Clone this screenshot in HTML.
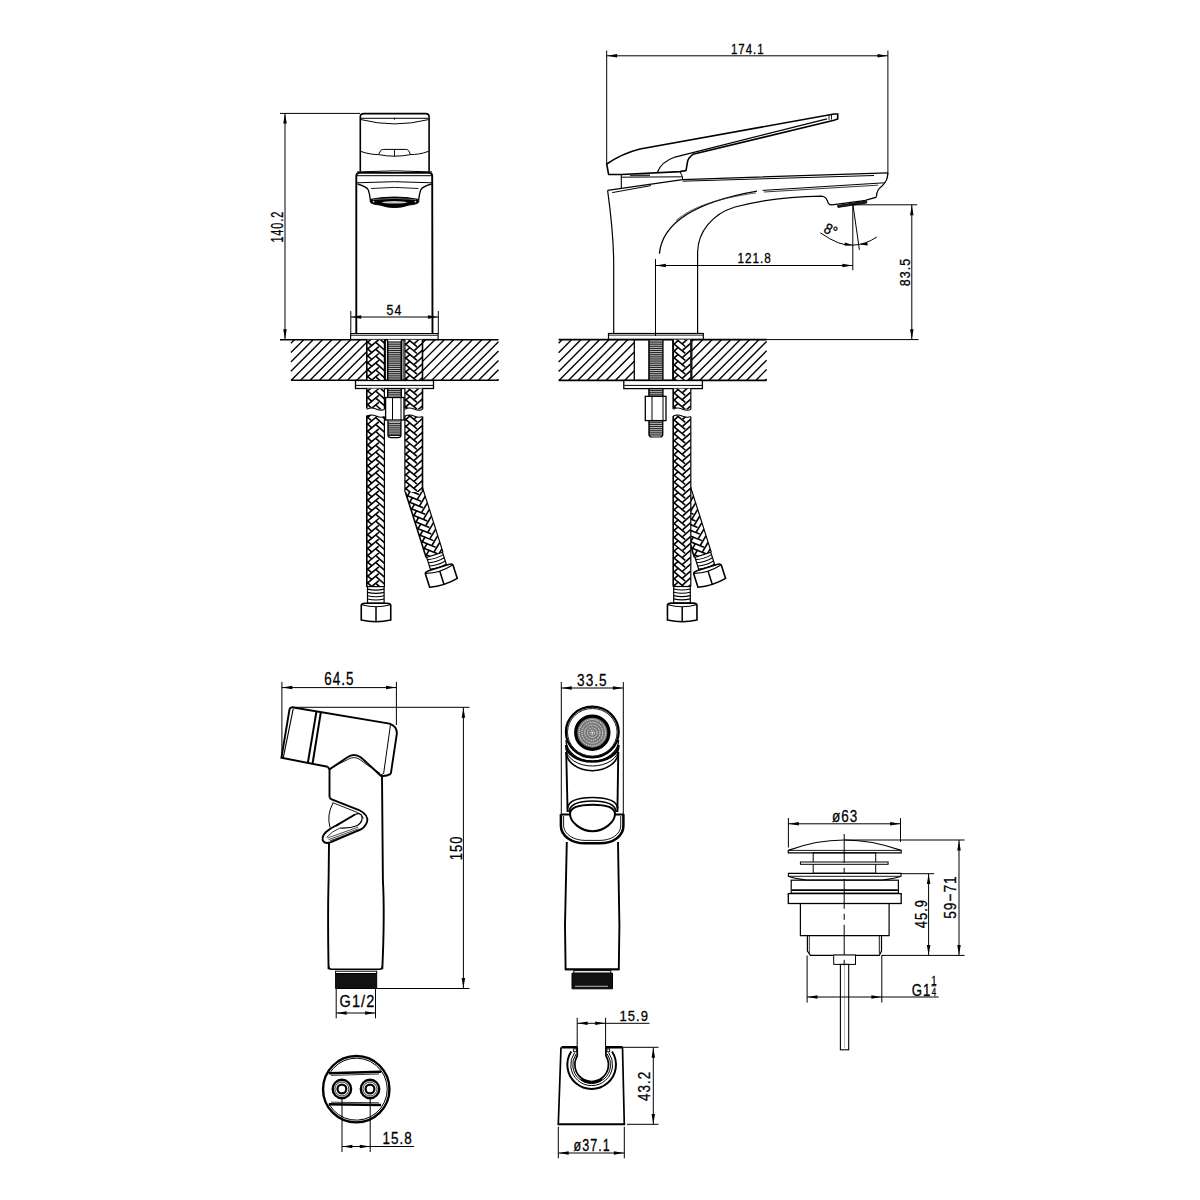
<!DOCTYPE html>
<html><head><meta charset="utf-8"><style>
html,body{margin:0;padding:0;background:#fff;width:1200px;height:1200px;overflow:hidden}
svg{display:block}
</style></head><body>
<svg width="1200" height="1200" viewBox="0 0 1200 1200" stroke-linecap="butt">
<rect width="1200" height="1200" fill="#fff"/>
<line x1="280" y1="113.4" x2="360" y2="113.4" stroke="#000" stroke-width="1.0" />
<line x1="285" y1="113.4" x2="285" y2="339.5" stroke="#000" stroke-width="1.0" />
<path d="M285,113.6 L286.75,123.6 L283.25,123.6 Z" fill="#000"/>
<path d="M285,339.3 L283.25,329.3 L286.75,329.3 Z" fill="#000"/>
<text transform="translate(276.98,226.75) rotate(-90) scale(0.6962041526815943,1)" x="0" y="5.63" font-family="Liberation Sans" font-size="15.628642954495875" letter-spacing="1.3" text-anchor="middle" fill="#000" stroke="#000" stroke-width="0.3">140.2</text>
<path d="M360.3,171.5 L360.3,116.5 Q360.3,113.6 364,113.6 L425.5,113.6 Q429.1,113.6 429.1,116.5 L429.1,171.5" stroke="#000" stroke-width="1.6" fill="none" />
<line x1="361" y1="118.3" x2="428.5" y2="118.3" stroke="#000" stroke-width="1.0" />
<line x1="394.5" y1="117.5" x2="394.5" y2="119.8" stroke="#000" stroke-width="0.9" />
<path d="M361,119.6 Q394.7,128.2 428.5,119.6" stroke="#000" stroke-width="1.0" fill="none" />
<path d="M360.5,151.3 C368,154 374,154.6 378.6,154.6 L380.6,150.6 Q381.6,149.4 383.6,149.4 L405.6,149.4 Q407.6,149.4 408.6,150.6 L410.6,154.6 C415.5,154.6 421.5,154 428.6,151.3" stroke="#000" stroke-width="1.0" fill="none" />
<path d="M378.6,154.6 Q394.5,157.8 410.6,154.6" stroke="#000" stroke-width="1.0" fill="none" />
<line x1="394.5" y1="149.4" x2="394.5" y2="156.4" stroke="#000" stroke-width="0.9" />
<path d="M356.3,333.7 L356.3,176 Q356.3,172.9 359.5,172.9 L429,172.9 Q432.2,172.9 432.2,176 L432.5,333.7" stroke="#000" stroke-width="1.9" fill="none" />
<path d="M357,171.9 Q394.5,169.8 432,171.9" stroke="#000" stroke-width="1.0" fill="none" />
<line x1="356.5" y1="175.7" x2="432" y2="175.7" stroke="#000" stroke-width="1.0" />
<path d="M357,182.8 Q394.5,180.6 432,182.8" stroke="#000" stroke-width="1.0" fill="none" />
<path d="M357.6,184 C363,185.5 367,187 368.3,190 C369.4,193 369.9,196 370.3,199.6" stroke="#000" stroke-width="1.3" fill="none" />
<path d="M431.4,184 C426,185.5 422,187 420.7,190 C419.6,193 419.1,196 418.7,199.6" stroke="#000" stroke-width="1.3" fill="none" />
<path d="M371,188.5 Q394.5,186.3 418.5,188.5" stroke="#000" stroke-width="0.9" fill="none" />
<path d="M370.2,199.4 Q394.5,194.6 418.8,199.4 L418.8,202 Q417.5,204.3 409,205 Q402,207.6 394.5,207.6 Q387,207.6 380,205 Q371.5,204.3 370.2,202 Z" stroke="#000" stroke-width="1.0" fill="#000" />
<ellipse cx="394.5" cy="202.3" rx="12.6" ry="1.2" fill="#c8c8c8"/>
<circle cx="373.6" cy="201.6" r="0.9" fill="#ddd"/>
<circle cx="415.4" cy="201.6" r="0.9" fill="#ddd"/>
<path d="M373,199.6 Q394.5,197.2 416,199.6" stroke="#888" stroke-width="0.7" fill="none" />
<rect x="350.6" y="333.6" width="87.5" height="5.9" stroke="#000" stroke-width="1.2" fill="#fff"/>
<line x1="351" y1="335.4" x2="437.8" y2="335.4" stroke="#000" stroke-width="0.8" />
<line x1="350.8" y1="311" x2="350.8" y2="333.5" stroke="#000" stroke-width="1.0" />
<line x1="438.3" y1="311" x2="438.3" y2="333.5" stroke="#000" stroke-width="1.0" />
<line x1="350.8" y1="317" x2="438.3" y2="317" stroke="#000" stroke-width="1.0" />
<path d="M351.2,317 L361.2,315.25 L361.2,318.75 Z" fill="#000"/>
<path d="M437.9,317 L427.9,318.75 L427.9,315.25 Z" fill="#000"/>
<text transform="translate(394.5,309.3) scale(0.8305806570504135,1)" x="0" y="5.37" font-family="Liberation Sans" font-size="14.919763419647278" letter-spacing="1.3" text-anchor="middle" fill="#000" stroke="#000" stroke-width="0.3">54</text>
<line x1="280" y1="339.7" x2="498.5" y2="339.7" stroke="#000" stroke-width="1.6" />
<line x1="290.9" y1="380.3" x2="498.5" y2="380.3" stroke="#000" stroke-width="1.6" />
<line x1="290.9" y1="343.17" x2="294.37" y2="339.7" stroke="#000" stroke-width="1.35" />
<line x1="290.9" y1="352.54" x2="303.74" y2="339.7" stroke="#000" stroke-width="1.35" />
<line x1="290.9" y1="361.91" x2="313.11" y2="339.7" stroke="#000" stroke-width="1.35" />
<line x1="290.9" y1="371.28" x2="322.48" y2="339.7" stroke="#000" stroke-width="1.35" />
<line x1="291.25" y1="380.3" x2="331.85" y2="339.7" stroke="#000" stroke-width="1.35" />
<line x1="300.62" y1="380.3" x2="341.22" y2="339.7" stroke="#000" stroke-width="1.35" />
<line x1="309.99" y1="380.3" x2="350.59" y2="339.7" stroke="#000" stroke-width="1.35" />
<line x1="319.36" y1="380.3" x2="359.96" y2="339.7" stroke="#000" stroke-width="1.35" />
<line x1="328.73" y1="380.3" x2="366.7" y2="342.33" stroke="#000" stroke-width="1.35" />
<line x1="338.1" y1="380.3" x2="366.7" y2="351.7" stroke="#000" stroke-width="1.35" />
<line x1="347.47" y1="380.3" x2="366.7" y2="361.07" stroke="#000" stroke-width="1.35" />
<line x1="356.84" y1="380.3" x2="366.7" y2="370.44" stroke="#000" stroke-width="1.35" />
<line x1="366.21" y1="380.3" x2="366.7" y2="379.81" stroke="#000" stroke-width="1.35" />
<line x1="422.6" y1="342.65" x2="425.55" y2="339.7" stroke="#000" stroke-width="1.35" />
<line x1="422.6" y1="352.02" x2="434.92" y2="339.7" stroke="#000" stroke-width="1.35" />
<line x1="422.6" y1="361.39" x2="444.29" y2="339.7" stroke="#000" stroke-width="1.35" />
<line x1="422.6" y1="370.76" x2="453.66" y2="339.7" stroke="#000" stroke-width="1.35" />
<line x1="422.6" y1="380.13" x2="463.03" y2="339.7" stroke="#000" stroke-width="1.35" />
<line x1="431.8" y1="380.3" x2="472.4" y2="339.7" stroke="#000" stroke-width="1.35" />
<line x1="441.17" y1="380.3" x2="481.77" y2="339.7" stroke="#000" stroke-width="1.35" />
<line x1="450.54" y1="380.3" x2="491.14" y2="339.7" stroke="#000" stroke-width="1.35" />
<line x1="459.91" y1="380.3" x2="498.5" y2="341.71" stroke="#000" stroke-width="1.35" />
<line x1="469.28" y1="380.3" x2="498.5" y2="351.08" stroke="#000" stroke-width="1.35" />
<line x1="478.65" y1="380.3" x2="498.5" y2="360.45" stroke="#000" stroke-width="1.35" />
<line x1="488.02" y1="380.3" x2="498.5" y2="369.82" stroke="#000" stroke-width="1.35" />
<line x1="497.39" y1="380.3" x2="498.5" y2="379.19" stroke="#000" stroke-width="1.35" />
<g transform="translate(375.6,339.7) rotate(0)">
<clipPath id="bfl1"><rect x="-8.8" y="0" width="17.6" height="48.8"/></clipPath>
<rect x="-8.8" y="0" width="17.6" height="48.8" fill="#fff"/>
<g clip-path="url(#bfl1)" stroke="#000" stroke-width="1.6" fill="none">
<line x1="-8.8" y1="-24.5" x2="3.25" y2="-34.5"/>
<line x1="0.5" y1="-31.57" x2="8.8" y2="-24.19"/>
<line x1="-8.8" y1="-32.95" x2="-3.5" y2="-28.27"/>
<line x1="-8.8" y1="-17.6" x2="3.25" y2="-27.6"/>
<line x1="0.5" y1="-24.67" x2="8.8" y2="-17.29"/>
<line x1="-8.8" y1="-26.05" x2="-3.5" y2="-21.37"/>
<line x1="-8.8" y1="-10.7" x2="3.25" y2="-20.7"/>
<line x1="0.5" y1="-17.77" x2="8.8" y2="-10.39"/>
<line x1="-8.8" y1="-19.15" x2="-3.5" y2="-14.47"/>
<line x1="-8.8" y1="-3.8" x2="3.25" y2="-13.8"/>
<line x1="0.5" y1="-10.87" x2="8.8" y2="-3.49"/>
<line x1="-8.8" y1="-12.25" x2="-3.5" y2="-7.57"/>
<line x1="-8.8" y1="3.1" x2="3.25" y2="-6.9"/>
<line x1="0.5" y1="-3.97" x2="8.8" y2="3.41"/>
<line x1="-8.8" y1="-5.35" x2="-3.5" y2="-0.67"/>
<line x1="-8.8" y1="10" x2="3.25" y2="0"/>
<line x1="0.5" y1="2.93" x2="8.8" y2="10.31"/>
<line x1="-8.8" y1="1.55" x2="-3.5" y2="6.23"/>
<line x1="-8.8" y1="16.9" x2="3.25" y2="6.9"/>
<line x1="0.5" y1="9.83" x2="8.8" y2="17.21"/>
<line x1="-8.8" y1="8.45" x2="-3.5" y2="13.13"/>
<line x1="-8.8" y1="23.8" x2="3.25" y2="13.8"/>
<line x1="0.5" y1="16.73" x2="8.8" y2="24.11"/>
<line x1="-8.8" y1="15.35" x2="-3.5" y2="20.03"/>
<line x1="-8.8" y1="30.7" x2="3.25" y2="20.7"/>
<line x1="0.5" y1="23.63" x2="8.8" y2="31.01"/>
<line x1="-8.8" y1="22.25" x2="-3.5" y2="26.93"/>
<line x1="-8.8" y1="37.6" x2="3.25" y2="27.6"/>
<line x1="0.5" y1="30.53" x2="8.8" y2="37.91"/>
<line x1="-8.8" y1="29.15" x2="-3.5" y2="33.83"/>
<line x1="-8.8" y1="44.5" x2="3.25" y2="34.5"/>
<line x1="0.5" y1="37.43" x2="8.8" y2="44.81"/>
<line x1="-8.8" y1="36.05" x2="-3.5" y2="40.73"/>
<line x1="-8.8" y1="51.4" x2="3.25" y2="41.4"/>
<line x1="0.5" y1="44.33" x2="8.8" y2="51.71"/>
<line x1="-8.8" y1="42.95" x2="-3.5" y2="47.63"/>
<line x1="-8.8" y1="58.3" x2="3.25" y2="48.3"/>
<line x1="0.5" y1="51.23" x2="8.8" y2="58.61"/>
<line x1="-8.8" y1="49.85" x2="-3.5" y2="54.53"/>
<line x1="-8.8" y1="65.2" x2="3.25" y2="55.2"/>
<line x1="0.5" y1="58.13" x2="8.8" y2="65.51"/>
<line x1="-8.8" y1="56.75" x2="-3.5" y2="61.43"/>
<line x1="-8.8" y1="72.1" x2="3.25" y2="62.1"/>
<line x1="0.5" y1="65.03" x2="8.8" y2="72.41"/>
<line x1="-8.8" y1="63.65" x2="-3.5" y2="68.33"/>
<line x1="-8.8" y1="79" x2="3.25" y2="69"/>
<line x1="0.5" y1="71.93" x2="8.8" y2="79.31"/>
<line x1="-8.8" y1="70.55" x2="-3.5" y2="75.23"/>
<line x1="-8.8" y1="85.9" x2="3.25" y2="75.9"/>
<line x1="0.5" y1="78.83" x2="8.8" y2="86.21"/>
<line x1="-8.8" y1="77.45" x2="-3.5" y2="82.13"/>
<line x1="-8.8" y1="92.8" x2="3.25" y2="82.8"/>
<line x1="0.5" y1="85.73" x2="8.8" y2="93.11"/>
<line x1="-8.8" y1="84.35" x2="-3.5" y2="89.03"/>
<line x1="-8.8" y1="99.7" x2="3.25" y2="89.7"/>
<line x1="0.5" y1="92.63" x2="8.8" y2="100.01"/>
<line x1="-8.8" y1="91.25" x2="-3.5" y2="95.93"/>
<line x1="-8.8" y1="106.6" x2="3.25" y2="96.6"/>
<line x1="0.5" y1="99.53" x2="8.8" y2="106.91"/>
<line x1="-8.8" y1="98.15" x2="-3.5" y2="102.83"/>
</g>
<line x1="-8.8" y1="0" x2="-8.8" y2="48.8" stroke="#000" stroke-width="1.6"/>
<line x1="8.8" y1="0" x2="8.8" y2="48.8" stroke="#000" stroke-width="1.2"/>
</g>
<g transform="translate(413.7,339.7) rotate(0)">
<clipPath id="bfr1"><rect x="-8.8" y="0" width="17.6" height="48.8"/></clipPath>
<rect x="-8.8" y="0" width="17.6" height="48.8" fill="#fff"/>
<g clip-path="url(#bfr1)" stroke="#000" stroke-width="1.6" fill="none">
<line x1="-8.8" y1="-44.5" x2="3.25" y2="-34.5"/>
<line x1="0.5" y1="-37.43" x2="8.8" y2="-44.81"/>
<line x1="-8.8" y1="-36.05" x2="-3.5" y2="-40.73"/>
<line x1="-8.8" y1="-37.6" x2="3.25" y2="-27.6"/>
<line x1="0.5" y1="-30.53" x2="8.8" y2="-37.91"/>
<line x1="-8.8" y1="-29.15" x2="-3.5" y2="-33.83"/>
<line x1="-8.8" y1="-30.7" x2="3.25" y2="-20.7"/>
<line x1="0.5" y1="-23.63" x2="8.8" y2="-31.01"/>
<line x1="-8.8" y1="-22.25" x2="-3.5" y2="-26.93"/>
<line x1="-8.8" y1="-23.8" x2="3.25" y2="-13.8"/>
<line x1="0.5" y1="-16.73" x2="8.8" y2="-24.11"/>
<line x1="-8.8" y1="-15.35" x2="-3.5" y2="-20.03"/>
<line x1="-8.8" y1="-16.9" x2="3.25" y2="-6.9"/>
<line x1="0.5" y1="-9.83" x2="8.8" y2="-17.21"/>
<line x1="-8.8" y1="-8.45" x2="-3.5" y2="-13.13"/>
<line x1="-8.8" y1="-10" x2="3.25" y2="0"/>
<line x1="0.5" y1="-2.93" x2="8.8" y2="-10.31"/>
<line x1="-8.8" y1="-1.55" x2="-3.5" y2="-6.23"/>
<line x1="-8.8" y1="-3.1" x2="3.25" y2="6.9"/>
<line x1="0.5" y1="3.97" x2="8.8" y2="-3.41"/>
<line x1="-8.8" y1="5.35" x2="-3.5" y2="0.67"/>
<line x1="-8.8" y1="3.8" x2="3.25" y2="13.8"/>
<line x1="0.5" y1="10.87" x2="8.8" y2="3.49"/>
<line x1="-8.8" y1="12.25" x2="-3.5" y2="7.57"/>
<line x1="-8.8" y1="10.7" x2="3.25" y2="20.7"/>
<line x1="0.5" y1="17.77" x2="8.8" y2="10.39"/>
<line x1="-8.8" y1="19.15" x2="-3.5" y2="14.47"/>
<line x1="-8.8" y1="17.6" x2="3.25" y2="27.6"/>
<line x1="0.5" y1="24.67" x2="8.8" y2="17.29"/>
<line x1="-8.8" y1="26.05" x2="-3.5" y2="21.37"/>
<line x1="-8.8" y1="24.5" x2="3.25" y2="34.5"/>
<line x1="0.5" y1="31.57" x2="8.8" y2="24.19"/>
<line x1="-8.8" y1="32.95" x2="-3.5" y2="28.27"/>
<line x1="-8.8" y1="31.4" x2="3.25" y2="41.4"/>
<line x1="0.5" y1="38.47" x2="8.8" y2="31.09"/>
<line x1="-8.8" y1="39.85" x2="-3.5" y2="35.17"/>
<line x1="-8.8" y1="38.3" x2="3.25" y2="48.3"/>
<line x1="0.5" y1="45.37" x2="8.8" y2="37.99"/>
<line x1="-8.8" y1="46.75" x2="-3.5" y2="42.07"/>
<line x1="-8.8" y1="45.2" x2="3.25" y2="55.2"/>
<line x1="0.5" y1="52.27" x2="8.8" y2="44.89"/>
<line x1="-8.8" y1="53.65" x2="-3.5" y2="48.97"/>
<line x1="-8.8" y1="52.1" x2="3.25" y2="62.1"/>
<line x1="0.5" y1="59.17" x2="8.8" y2="51.79"/>
<line x1="-8.8" y1="60.55" x2="-3.5" y2="55.87"/>
<line x1="-8.8" y1="59" x2="3.25" y2="69"/>
<line x1="0.5" y1="66.07" x2="8.8" y2="58.69"/>
<line x1="-8.8" y1="67.45" x2="-3.5" y2="62.77"/>
<line x1="-8.8" y1="65.9" x2="3.25" y2="75.9"/>
<line x1="0.5" y1="72.97" x2="8.8" y2="65.59"/>
<line x1="-8.8" y1="74.35" x2="-3.5" y2="69.67"/>
<line x1="-8.8" y1="72.8" x2="3.25" y2="82.8"/>
<line x1="0.5" y1="79.87" x2="8.8" y2="72.49"/>
<line x1="-8.8" y1="81.25" x2="-3.5" y2="76.57"/>
<line x1="-8.8" y1="79.7" x2="3.25" y2="89.7"/>
<line x1="0.5" y1="86.77" x2="8.8" y2="79.39"/>
<line x1="-8.8" y1="88.15" x2="-3.5" y2="83.47"/>
<line x1="-8.8" y1="86.6" x2="3.25" y2="96.6"/>
<line x1="0.5" y1="93.67" x2="8.8" y2="86.29"/>
<line x1="-8.8" y1="95.05" x2="-3.5" y2="90.37"/>
</g>
<line x1="-8.8" y1="0" x2="-8.8" y2="48.8" stroke="#000" stroke-width="1.2"/>
<line x1="8.8" y1="0" x2="8.8" y2="48.8" stroke="#000" stroke-width="1.6"/>
</g>
<line x1="385.6" y1="339.7" x2="385.6" y2="380.3" stroke="#000" stroke-width="1.0" />
<line x1="403.1" y1="339.7" x2="403.1" y2="380.3" stroke="#000" stroke-width="1.0" />
<rect x="387.6" y="339.7" width="13.8" height="57.8" stroke="none" stroke-width="0" fill="#fff"/>
<rect x="387.8" y="341" width="13.4" height="55.5" stroke="none" stroke-width="0" fill="#111"/>
<line x1="388.4" y1="341.95" x2="400.6" y2="341.95" stroke="#fff" stroke-width="0.75" />
<line x1="388.4" y1="343.85" x2="400.6" y2="343.85" stroke="#fff" stroke-width="0.75" />
<line x1="388.4" y1="345.75" x2="400.6" y2="345.75" stroke="#fff" stroke-width="0.75" />
<line x1="388.4" y1="347.65" x2="400.6" y2="347.65" stroke="#fff" stroke-width="0.75" />
<line x1="388.4" y1="349.55" x2="400.6" y2="349.55" stroke="#fff" stroke-width="0.75" />
<line x1="388.4" y1="351.45" x2="400.6" y2="351.45" stroke="#fff" stroke-width="0.75" />
<line x1="388.4" y1="353.35" x2="400.6" y2="353.35" stroke="#fff" stroke-width="0.75" />
<line x1="388.4" y1="355.25" x2="400.6" y2="355.25" stroke="#fff" stroke-width="0.75" />
<line x1="388.4" y1="357.15" x2="400.6" y2="357.15" stroke="#fff" stroke-width="0.75" />
<line x1="388.4" y1="359.05" x2="400.6" y2="359.05" stroke="#fff" stroke-width="0.75" />
<line x1="388.4" y1="360.95" x2="400.6" y2="360.95" stroke="#fff" stroke-width="0.75" />
<line x1="388.4" y1="362.85" x2="400.6" y2="362.85" stroke="#fff" stroke-width="0.75" />
<line x1="388.4" y1="364.75" x2="400.6" y2="364.75" stroke="#fff" stroke-width="0.75" />
<line x1="388.4" y1="366.65" x2="400.6" y2="366.65" stroke="#fff" stroke-width="0.75" />
<line x1="388.4" y1="368.55" x2="400.6" y2="368.55" stroke="#fff" stroke-width="0.75" />
<line x1="388.4" y1="370.45" x2="400.6" y2="370.45" stroke="#fff" stroke-width="0.75" />
<line x1="388.4" y1="372.35" x2="400.6" y2="372.35" stroke="#fff" stroke-width="0.75" />
<line x1="388.4" y1="374.25" x2="400.6" y2="374.25" stroke="#fff" stroke-width="0.75" />
<line x1="388.4" y1="376.15" x2="400.6" y2="376.15" stroke="#fff" stroke-width="0.75" />
<line x1="388.4" y1="378.05" x2="400.6" y2="378.05" stroke="#fff" stroke-width="0.75" />
<line x1="388.4" y1="379.95" x2="400.6" y2="379.95" stroke="#fff" stroke-width="0.75" />
<line x1="388.4" y1="381.85" x2="400.6" y2="381.85" stroke="#fff" stroke-width="0.75" />
<line x1="388.4" y1="383.75" x2="400.6" y2="383.75" stroke="#fff" stroke-width="0.75" />
<line x1="388.4" y1="385.65" x2="400.6" y2="385.65" stroke="#fff" stroke-width="0.75" />
<line x1="388.4" y1="387.55" x2="400.6" y2="387.55" stroke="#fff" stroke-width="0.75" />
<line x1="388.4" y1="389.45" x2="400.6" y2="389.45" stroke="#fff" stroke-width="0.75" />
<line x1="388.4" y1="391.35" x2="400.6" y2="391.35" stroke="#fff" stroke-width="0.75" />
<line x1="388.4" y1="393.25" x2="400.6" y2="393.25" stroke="#fff" stroke-width="0.75" />
<line x1="388.4" y1="395.15" x2="400.6" y2="395.15" stroke="#fff" stroke-width="0.75" />
<line x1="387.6" y1="339.7" x2="387.6" y2="397.5" stroke="#000" stroke-width="1.2" />
<line x1="401.4" y1="339.7" x2="401.4" y2="397.5" stroke="#000" stroke-width="1.2" />
<rect x="355.5" y="380.5" width="78" height="8" stroke="#000" stroke-width="1.3" fill="#fff"/>
<line x1="356" y1="385.4" x2="433" y2="385.4" stroke="#000" stroke-width="1.0" />
<g transform="translate(375.6,388.5) rotate(0)">
<clipPath id="bfl2"><rect x="-8.8" y="0" width="17.6" height="21"/></clipPath>
<rect x="-8.8" y="0" width="17.6" height="21" fill="#fff"/>
<g clip-path="url(#bfl2)" stroke="#000" stroke-width="1.6" fill="none">
<line x1="-8.8" y1="-24.5" x2="3.25" y2="-34.5"/>
<line x1="0.5" y1="-31.57" x2="8.8" y2="-24.19"/>
<line x1="-8.8" y1="-32.95" x2="-3.5" y2="-28.27"/>
<line x1="-8.8" y1="-17.6" x2="3.25" y2="-27.6"/>
<line x1="0.5" y1="-24.67" x2="8.8" y2="-17.29"/>
<line x1="-8.8" y1="-26.05" x2="-3.5" y2="-21.37"/>
<line x1="-8.8" y1="-10.7" x2="3.25" y2="-20.7"/>
<line x1="0.5" y1="-17.77" x2="8.8" y2="-10.39"/>
<line x1="-8.8" y1="-19.15" x2="-3.5" y2="-14.47"/>
<line x1="-8.8" y1="-3.8" x2="3.25" y2="-13.8"/>
<line x1="0.5" y1="-10.87" x2="8.8" y2="-3.49"/>
<line x1="-8.8" y1="-12.25" x2="-3.5" y2="-7.57"/>
<line x1="-8.8" y1="3.1" x2="3.25" y2="-6.9"/>
<line x1="0.5" y1="-3.97" x2="8.8" y2="3.41"/>
<line x1="-8.8" y1="-5.35" x2="-3.5" y2="-0.67"/>
<line x1="-8.8" y1="10" x2="3.25" y2="0"/>
<line x1="0.5" y1="2.93" x2="8.8" y2="10.31"/>
<line x1="-8.8" y1="1.55" x2="-3.5" y2="6.23"/>
<line x1="-8.8" y1="16.9" x2="3.25" y2="6.9"/>
<line x1="0.5" y1="9.83" x2="8.8" y2="17.21"/>
<line x1="-8.8" y1="8.45" x2="-3.5" y2="13.13"/>
<line x1="-8.8" y1="23.8" x2="3.25" y2="13.8"/>
<line x1="0.5" y1="16.73" x2="8.8" y2="24.11"/>
<line x1="-8.8" y1="15.35" x2="-3.5" y2="20.03"/>
<line x1="-8.8" y1="30.7" x2="3.25" y2="20.7"/>
<line x1="0.5" y1="23.63" x2="8.8" y2="31.01"/>
<line x1="-8.8" y1="22.25" x2="-3.5" y2="26.93"/>
<line x1="-8.8" y1="37.6" x2="3.25" y2="27.6"/>
<line x1="0.5" y1="30.53" x2="8.8" y2="37.91"/>
<line x1="-8.8" y1="29.15" x2="-3.5" y2="33.83"/>
<line x1="-8.8" y1="44.5" x2="3.25" y2="34.5"/>
<line x1="0.5" y1="37.43" x2="8.8" y2="44.81"/>
<line x1="-8.8" y1="36.05" x2="-3.5" y2="40.73"/>
<line x1="-8.8" y1="51.4" x2="3.25" y2="41.4"/>
<line x1="0.5" y1="44.33" x2="8.8" y2="51.71"/>
<line x1="-8.8" y1="42.95" x2="-3.5" y2="47.63"/>
<line x1="-8.8" y1="58.3" x2="3.25" y2="48.3"/>
<line x1="0.5" y1="51.23" x2="8.8" y2="58.61"/>
<line x1="-8.8" y1="49.85" x2="-3.5" y2="54.53"/>
<line x1="-8.8" y1="65.2" x2="3.25" y2="55.2"/>
<line x1="0.5" y1="58.13" x2="8.8" y2="65.51"/>
<line x1="-8.8" y1="56.75" x2="-3.5" y2="61.43"/>
<line x1="-8.8" y1="72.1" x2="3.25" y2="62.1"/>
<line x1="0.5" y1="65.03" x2="8.8" y2="72.41"/>
<line x1="-8.8" y1="63.65" x2="-3.5" y2="68.33"/>
<line x1="-8.8" y1="79" x2="3.25" y2="69"/>
<line x1="0.5" y1="71.93" x2="8.8" y2="79.31"/>
<line x1="-8.8" y1="70.55" x2="-3.5" y2="75.23"/>
</g>
<line x1="-8.8" y1="0" x2="-8.8" y2="21" stroke="#000" stroke-width="1.6"/>
<line x1="8.8" y1="0" x2="8.8" y2="21" stroke="#000" stroke-width="1.2"/>
</g>
<g transform="translate(375.6,415) rotate(0)">
<clipPath id="bfl3"><rect x="-8.8" y="0" width="17.6" height="172"/></clipPath>
<rect x="-8.8" y="0" width="17.6" height="172" fill="#fff"/>
<g clip-path="url(#bfl3)" stroke="#000" stroke-width="1.6" fill="none">
<line x1="-8.8" y1="-24.5" x2="3.25" y2="-34.5"/>
<line x1="0.5" y1="-31.57" x2="8.8" y2="-24.19"/>
<line x1="-8.8" y1="-32.95" x2="-3.5" y2="-28.27"/>
<line x1="-8.8" y1="-17.6" x2="3.25" y2="-27.6"/>
<line x1="0.5" y1="-24.67" x2="8.8" y2="-17.29"/>
<line x1="-8.8" y1="-26.05" x2="-3.5" y2="-21.37"/>
<line x1="-8.8" y1="-10.7" x2="3.25" y2="-20.7"/>
<line x1="0.5" y1="-17.77" x2="8.8" y2="-10.39"/>
<line x1="-8.8" y1="-19.15" x2="-3.5" y2="-14.47"/>
<line x1="-8.8" y1="-3.8" x2="3.25" y2="-13.8"/>
<line x1="0.5" y1="-10.87" x2="8.8" y2="-3.49"/>
<line x1="-8.8" y1="-12.25" x2="-3.5" y2="-7.57"/>
<line x1="-8.8" y1="3.1" x2="3.25" y2="-6.9"/>
<line x1="0.5" y1="-3.97" x2="8.8" y2="3.41"/>
<line x1="-8.8" y1="-5.35" x2="-3.5" y2="-0.67"/>
<line x1="-8.8" y1="10" x2="3.25" y2="0"/>
<line x1="0.5" y1="2.93" x2="8.8" y2="10.31"/>
<line x1="-8.8" y1="1.55" x2="-3.5" y2="6.23"/>
<line x1="-8.8" y1="16.9" x2="3.25" y2="6.9"/>
<line x1="0.5" y1="9.83" x2="8.8" y2="17.21"/>
<line x1="-8.8" y1="8.45" x2="-3.5" y2="13.13"/>
<line x1="-8.8" y1="23.8" x2="3.25" y2="13.8"/>
<line x1="0.5" y1="16.73" x2="8.8" y2="24.11"/>
<line x1="-8.8" y1="15.35" x2="-3.5" y2="20.03"/>
<line x1="-8.8" y1="30.7" x2="3.25" y2="20.7"/>
<line x1="0.5" y1="23.63" x2="8.8" y2="31.01"/>
<line x1="-8.8" y1="22.25" x2="-3.5" y2="26.93"/>
<line x1="-8.8" y1="37.6" x2="3.25" y2="27.6"/>
<line x1="0.5" y1="30.53" x2="8.8" y2="37.91"/>
<line x1="-8.8" y1="29.15" x2="-3.5" y2="33.83"/>
<line x1="-8.8" y1="44.5" x2="3.25" y2="34.5"/>
<line x1="0.5" y1="37.43" x2="8.8" y2="44.81"/>
<line x1="-8.8" y1="36.05" x2="-3.5" y2="40.73"/>
<line x1="-8.8" y1="51.4" x2="3.25" y2="41.4"/>
<line x1="0.5" y1="44.33" x2="8.8" y2="51.71"/>
<line x1="-8.8" y1="42.95" x2="-3.5" y2="47.63"/>
<line x1="-8.8" y1="58.3" x2="3.25" y2="48.3"/>
<line x1="0.5" y1="51.23" x2="8.8" y2="58.61"/>
<line x1="-8.8" y1="49.85" x2="-3.5" y2="54.53"/>
<line x1="-8.8" y1="65.2" x2="3.25" y2="55.2"/>
<line x1="0.5" y1="58.13" x2="8.8" y2="65.51"/>
<line x1="-8.8" y1="56.75" x2="-3.5" y2="61.43"/>
<line x1="-8.8" y1="72.1" x2="3.25" y2="62.1"/>
<line x1="0.5" y1="65.03" x2="8.8" y2="72.41"/>
<line x1="-8.8" y1="63.65" x2="-3.5" y2="68.33"/>
<line x1="-8.8" y1="79" x2="3.25" y2="69"/>
<line x1="0.5" y1="71.93" x2="8.8" y2="79.31"/>
<line x1="-8.8" y1="70.55" x2="-3.5" y2="75.23"/>
<line x1="-8.8" y1="85.9" x2="3.25" y2="75.9"/>
<line x1="0.5" y1="78.83" x2="8.8" y2="86.21"/>
<line x1="-8.8" y1="77.45" x2="-3.5" y2="82.13"/>
<line x1="-8.8" y1="92.8" x2="3.25" y2="82.8"/>
<line x1="0.5" y1="85.73" x2="8.8" y2="93.11"/>
<line x1="-8.8" y1="84.35" x2="-3.5" y2="89.03"/>
<line x1="-8.8" y1="99.7" x2="3.25" y2="89.7"/>
<line x1="0.5" y1="92.63" x2="8.8" y2="100.01"/>
<line x1="-8.8" y1="91.25" x2="-3.5" y2="95.93"/>
<line x1="-8.8" y1="106.6" x2="3.25" y2="96.6"/>
<line x1="0.5" y1="99.53" x2="8.8" y2="106.91"/>
<line x1="-8.8" y1="98.15" x2="-3.5" y2="102.83"/>
<line x1="-8.8" y1="113.5" x2="3.25" y2="103.5"/>
<line x1="0.5" y1="106.43" x2="8.8" y2="113.81"/>
<line x1="-8.8" y1="105.05" x2="-3.5" y2="109.73"/>
<line x1="-8.8" y1="120.4" x2="3.25" y2="110.4"/>
<line x1="0.5" y1="113.33" x2="8.8" y2="120.71"/>
<line x1="-8.8" y1="111.95" x2="-3.5" y2="116.63"/>
<line x1="-8.8" y1="127.3" x2="3.25" y2="117.3"/>
<line x1="0.5" y1="120.23" x2="8.8" y2="127.61"/>
<line x1="-8.8" y1="118.85" x2="-3.5" y2="123.53"/>
<line x1="-8.8" y1="134.2" x2="3.25" y2="124.2"/>
<line x1="0.5" y1="127.13" x2="8.8" y2="134.51"/>
<line x1="-8.8" y1="125.75" x2="-3.5" y2="130.43"/>
<line x1="-8.8" y1="141.1" x2="3.25" y2="131.1"/>
<line x1="0.5" y1="134.03" x2="8.8" y2="141.41"/>
<line x1="-8.8" y1="132.65" x2="-3.5" y2="137.33"/>
<line x1="-8.8" y1="148" x2="3.25" y2="138"/>
<line x1="0.5" y1="140.93" x2="8.8" y2="148.31"/>
<line x1="-8.8" y1="139.55" x2="-3.5" y2="144.23"/>
<line x1="-8.8" y1="154.9" x2="3.25" y2="144.9"/>
<line x1="0.5" y1="147.83" x2="8.8" y2="155.21"/>
<line x1="-8.8" y1="146.45" x2="-3.5" y2="151.13"/>
<line x1="-8.8" y1="161.8" x2="3.25" y2="151.8"/>
<line x1="0.5" y1="154.73" x2="8.8" y2="162.11"/>
<line x1="-8.8" y1="153.35" x2="-3.5" y2="158.03"/>
<line x1="-8.8" y1="168.7" x2="3.25" y2="158.7"/>
<line x1="0.5" y1="161.63" x2="8.8" y2="169.01"/>
<line x1="-8.8" y1="160.25" x2="-3.5" y2="164.93"/>
<line x1="-8.8" y1="175.6" x2="3.25" y2="165.6"/>
<line x1="0.5" y1="168.53" x2="8.8" y2="175.91"/>
<line x1="-8.8" y1="167.15" x2="-3.5" y2="171.83"/>
<line x1="-8.8" y1="182.5" x2="3.25" y2="172.5"/>
<line x1="0.5" y1="175.43" x2="8.8" y2="182.81"/>
<line x1="-8.8" y1="174.05" x2="-3.5" y2="178.73"/>
<line x1="-8.8" y1="189.4" x2="3.25" y2="179.4"/>
<line x1="0.5" y1="182.33" x2="8.8" y2="189.71"/>
<line x1="-8.8" y1="180.95" x2="-3.5" y2="185.63"/>
<line x1="-8.8" y1="196.3" x2="3.25" y2="186.3"/>
<line x1="0.5" y1="189.23" x2="8.8" y2="196.61"/>
<line x1="-8.8" y1="187.85" x2="-3.5" y2="192.53"/>
<line x1="-8.8" y1="203.2" x2="3.25" y2="193.2"/>
<line x1="0.5" y1="196.13" x2="8.8" y2="203.51"/>
<line x1="-8.8" y1="194.75" x2="-3.5" y2="199.43"/>
<line x1="-8.8" y1="210.1" x2="3.25" y2="200.1"/>
<line x1="0.5" y1="203.03" x2="8.8" y2="210.41"/>
<line x1="-8.8" y1="201.65" x2="-3.5" y2="206.33"/>
<line x1="-8.8" y1="217" x2="3.25" y2="207"/>
<line x1="0.5" y1="209.93" x2="8.8" y2="217.31"/>
<line x1="-8.8" y1="208.55" x2="-3.5" y2="213.23"/>
<line x1="-8.8" y1="223.9" x2="3.25" y2="213.9"/>
<line x1="0.5" y1="216.83" x2="8.8" y2="224.21"/>
<line x1="-8.8" y1="215.45" x2="-3.5" y2="220.13"/>
</g>
<line x1="-8.8" y1="0" x2="-8.8" y2="172" stroke="#000" stroke-width="1.6"/>
<line x1="8.8" y1="0" x2="8.8" y2="172" stroke="#000" stroke-width="1.2"/>
</g>
<g transform="translate(413.7,388.5) rotate(0)">
<clipPath id="bfr2"><rect x="-8.8" y="0" width="17.6" height="21"/></clipPath>
<rect x="-8.8" y="0" width="17.6" height="21" fill="#fff"/>
<g clip-path="url(#bfr2)" stroke="#000" stroke-width="1.6" fill="none">
<line x1="-8.8" y1="-44.5" x2="3.25" y2="-34.5"/>
<line x1="0.5" y1="-37.43" x2="8.8" y2="-44.81"/>
<line x1="-8.8" y1="-36.05" x2="-3.5" y2="-40.73"/>
<line x1="-8.8" y1="-37.6" x2="3.25" y2="-27.6"/>
<line x1="0.5" y1="-30.53" x2="8.8" y2="-37.91"/>
<line x1="-8.8" y1="-29.15" x2="-3.5" y2="-33.83"/>
<line x1="-8.8" y1="-30.7" x2="3.25" y2="-20.7"/>
<line x1="0.5" y1="-23.63" x2="8.8" y2="-31.01"/>
<line x1="-8.8" y1="-22.25" x2="-3.5" y2="-26.93"/>
<line x1="-8.8" y1="-23.8" x2="3.25" y2="-13.8"/>
<line x1="0.5" y1="-16.73" x2="8.8" y2="-24.11"/>
<line x1="-8.8" y1="-15.35" x2="-3.5" y2="-20.03"/>
<line x1="-8.8" y1="-16.9" x2="3.25" y2="-6.9"/>
<line x1="0.5" y1="-9.83" x2="8.8" y2="-17.21"/>
<line x1="-8.8" y1="-8.45" x2="-3.5" y2="-13.13"/>
<line x1="-8.8" y1="-10" x2="3.25" y2="0"/>
<line x1="0.5" y1="-2.93" x2="8.8" y2="-10.31"/>
<line x1="-8.8" y1="-1.55" x2="-3.5" y2="-6.23"/>
<line x1="-8.8" y1="-3.1" x2="3.25" y2="6.9"/>
<line x1="0.5" y1="3.97" x2="8.8" y2="-3.41"/>
<line x1="-8.8" y1="5.35" x2="-3.5" y2="0.67"/>
<line x1="-8.8" y1="3.8" x2="3.25" y2="13.8"/>
<line x1="0.5" y1="10.87" x2="8.8" y2="3.49"/>
<line x1="-8.8" y1="12.25" x2="-3.5" y2="7.57"/>
<line x1="-8.8" y1="10.7" x2="3.25" y2="20.7"/>
<line x1="0.5" y1="17.77" x2="8.8" y2="10.39"/>
<line x1="-8.8" y1="19.15" x2="-3.5" y2="14.47"/>
<line x1="-8.8" y1="17.6" x2="3.25" y2="27.6"/>
<line x1="0.5" y1="24.67" x2="8.8" y2="17.29"/>
<line x1="-8.8" y1="26.05" x2="-3.5" y2="21.37"/>
<line x1="-8.8" y1="24.5" x2="3.25" y2="34.5"/>
<line x1="0.5" y1="31.57" x2="8.8" y2="24.19"/>
<line x1="-8.8" y1="32.95" x2="-3.5" y2="28.27"/>
<line x1="-8.8" y1="31.4" x2="3.25" y2="41.4"/>
<line x1="0.5" y1="38.47" x2="8.8" y2="31.09"/>
<line x1="-8.8" y1="39.85" x2="-3.5" y2="35.17"/>
<line x1="-8.8" y1="38.3" x2="3.25" y2="48.3"/>
<line x1="0.5" y1="45.37" x2="8.8" y2="37.99"/>
<line x1="-8.8" y1="46.75" x2="-3.5" y2="42.07"/>
<line x1="-8.8" y1="45.2" x2="3.25" y2="55.2"/>
<line x1="0.5" y1="52.27" x2="8.8" y2="44.89"/>
<line x1="-8.8" y1="53.65" x2="-3.5" y2="48.97"/>
<line x1="-8.8" y1="52.1" x2="3.25" y2="62.1"/>
<line x1="0.5" y1="59.17" x2="8.8" y2="51.79"/>
<line x1="-8.8" y1="60.55" x2="-3.5" y2="55.87"/>
<line x1="-8.8" y1="59" x2="3.25" y2="69"/>
<line x1="0.5" y1="66.07" x2="8.8" y2="58.69"/>
<line x1="-8.8" y1="67.45" x2="-3.5" y2="62.77"/>
</g>
<line x1="-8.8" y1="0" x2="-8.8" y2="21" stroke="#000" stroke-width="1.2"/>
<line x1="8.8" y1="0" x2="8.8" y2="21" stroke="#000" stroke-width="1.6"/>
</g>
<g transform="translate(413.7,489) rotate(-17.6)">
<clipPath id="bhf"><rect x="-8.8" y="0" width="17.6" height="69"/></clipPath>
<rect x="-8.8" y="0" width="17.6" height="69" fill="#fff"/>
<g clip-path="url(#bhf)" stroke="#000" stroke-width="1.6" fill="none">
<line x1="-8.8" y1="-44.5" x2="3.25" y2="-34.5"/>
<line x1="0.5" y1="-37.43" x2="8.8" y2="-44.81"/>
<line x1="-8.8" y1="-36.05" x2="-3.5" y2="-40.73"/>
<line x1="-8.8" y1="-37.6" x2="3.25" y2="-27.6"/>
<line x1="0.5" y1="-30.53" x2="8.8" y2="-37.91"/>
<line x1="-8.8" y1="-29.15" x2="-3.5" y2="-33.83"/>
<line x1="-8.8" y1="-30.7" x2="3.25" y2="-20.7"/>
<line x1="0.5" y1="-23.63" x2="8.8" y2="-31.01"/>
<line x1="-8.8" y1="-22.25" x2="-3.5" y2="-26.93"/>
<line x1="-8.8" y1="-23.8" x2="3.25" y2="-13.8"/>
<line x1="0.5" y1="-16.73" x2="8.8" y2="-24.11"/>
<line x1="-8.8" y1="-15.35" x2="-3.5" y2="-20.03"/>
<line x1="-8.8" y1="-16.9" x2="3.25" y2="-6.9"/>
<line x1="0.5" y1="-9.83" x2="8.8" y2="-17.21"/>
<line x1="-8.8" y1="-8.45" x2="-3.5" y2="-13.13"/>
<line x1="-8.8" y1="-10" x2="3.25" y2="0"/>
<line x1="0.5" y1="-2.93" x2="8.8" y2="-10.31"/>
<line x1="-8.8" y1="-1.55" x2="-3.5" y2="-6.23"/>
<line x1="-8.8" y1="-3.1" x2="3.25" y2="6.9"/>
<line x1="0.5" y1="3.97" x2="8.8" y2="-3.41"/>
<line x1="-8.8" y1="5.35" x2="-3.5" y2="0.67"/>
<line x1="-8.8" y1="3.8" x2="3.25" y2="13.8"/>
<line x1="0.5" y1="10.87" x2="8.8" y2="3.49"/>
<line x1="-8.8" y1="12.25" x2="-3.5" y2="7.57"/>
<line x1="-8.8" y1="10.7" x2="3.25" y2="20.7"/>
<line x1="0.5" y1="17.77" x2="8.8" y2="10.39"/>
<line x1="-8.8" y1="19.15" x2="-3.5" y2="14.47"/>
<line x1="-8.8" y1="17.6" x2="3.25" y2="27.6"/>
<line x1="0.5" y1="24.67" x2="8.8" y2="17.29"/>
<line x1="-8.8" y1="26.05" x2="-3.5" y2="21.37"/>
<line x1="-8.8" y1="24.5" x2="3.25" y2="34.5"/>
<line x1="0.5" y1="31.57" x2="8.8" y2="24.19"/>
<line x1="-8.8" y1="32.95" x2="-3.5" y2="28.27"/>
<line x1="-8.8" y1="31.4" x2="3.25" y2="41.4"/>
<line x1="0.5" y1="38.47" x2="8.8" y2="31.09"/>
<line x1="-8.8" y1="39.85" x2="-3.5" y2="35.17"/>
<line x1="-8.8" y1="38.3" x2="3.25" y2="48.3"/>
<line x1="0.5" y1="45.37" x2="8.8" y2="37.99"/>
<line x1="-8.8" y1="46.75" x2="-3.5" y2="42.07"/>
<line x1="-8.8" y1="45.2" x2="3.25" y2="55.2"/>
<line x1="0.5" y1="52.27" x2="8.8" y2="44.89"/>
<line x1="-8.8" y1="53.65" x2="-3.5" y2="48.97"/>
<line x1="-8.8" y1="52.1" x2="3.25" y2="62.1"/>
<line x1="0.5" y1="59.17" x2="8.8" y2="51.79"/>
<line x1="-8.8" y1="60.55" x2="-3.5" y2="55.87"/>
<line x1="-8.8" y1="59" x2="3.25" y2="69"/>
<line x1="0.5" y1="66.07" x2="8.8" y2="58.69"/>
<line x1="-8.8" y1="67.45" x2="-3.5" y2="62.77"/>
<line x1="-8.8" y1="65.9" x2="3.25" y2="75.9"/>
<line x1="0.5" y1="72.97" x2="8.8" y2="65.59"/>
<line x1="-8.8" y1="74.35" x2="-3.5" y2="69.67"/>
<line x1="-8.8" y1="72.8" x2="3.25" y2="82.8"/>
<line x1="0.5" y1="79.87" x2="8.8" y2="72.49"/>
<line x1="-8.8" y1="81.25" x2="-3.5" y2="76.57"/>
<line x1="-8.8" y1="79.7" x2="3.25" y2="89.7"/>
<line x1="0.5" y1="86.77" x2="8.8" y2="79.39"/>
<line x1="-8.8" y1="88.15" x2="-3.5" y2="83.47"/>
<line x1="-8.8" y1="86.6" x2="3.25" y2="96.6"/>
<line x1="0.5" y1="93.67" x2="8.8" y2="86.29"/>
<line x1="-8.8" y1="95.05" x2="-3.5" y2="90.37"/>
<line x1="-8.8" y1="93.5" x2="3.25" y2="103.5"/>
<line x1="0.5" y1="100.57" x2="8.8" y2="93.19"/>
<line x1="-8.8" y1="101.95" x2="-3.5" y2="97.27"/>
<line x1="-8.8" y1="100.4" x2="3.25" y2="110.4"/>
<line x1="0.5" y1="107.47" x2="8.8" y2="100.09"/>
<line x1="-8.8" y1="108.85" x2="-3.5" y2="104.17"/>
<line x1="-8.8" y1="107.3" x2="3.25" y2="117.3"/>
<line x1="0.5" y1="114.37" x2="8.8" y2="106.99"/>
<line x1="-8.8" y1="115.75" x2="-3.5" y2="111.07"/>
</g>
<line x1="-8.8" y1="0" x2="-8.8" y2="69" stroke="#000" stroke-width="1.6"/>
<line x1="8.8" y1="0" x2="8.8" y2="69" stroke="#000" stroke-width="1.2"/>
</g>
<g transform="translate(434.56,554.77) rotate(-17.6)" stroke="#000" fill="#fff"><rect x="-8.3" y="0" width="16.6" height="13.5" stroke-width="1.2"/><path d="M-8.3,2.5 Q0,4.5 8.3,2.5" stroke-width="1.1" fill="none"/><path d="M-8.3,5.8 Q0,7.8 8.3,5.8" stroke-width="1.1" fill="none"/><path d="M-8.3,9.1 Q0,11.1 8.3,9.1" stroke-width="1.1" fill="none"/><path d="M-8.3,12.4 Q0,14.4 8.3,12.4" stroke-width="1.1" fill="none"/></g>
<g transform="translate(438.65,567.64) rotate(-17.6)" stroke="#000" fill="#fff"><path d="M-14.5,2 Q-14.5,0.2 -10.5,0 L10.5,0 Q14.5,0.2 14.5,2 L14.5,15.9 Q0,19.3 -14.5,15.9 Z" stroke-width="1.6"/><path d="M-14,1.6 Q0,5.6 14,1.6" stroke-width="1.1" fill="none"/><line x1="0" y1="3.6" x2="0" y2="17.7" stroke-width="1.5"/></g>
<g transform="translate(413.7,415) rotate(0)">
<clipPath id="bfr3"><rect x="-8.8" y="0" width="17.6" height="77"/></clipPath>
<rect x="-8.8" y="0" width="17.6" height="77" fill="#fff"/>
<g clip-path="url(#bfr3)" stroke="#000" stroke-width="1.6" fill="none">
<line x1="-8.8" y1="-44.5" x2="3.25" y2="-34.5"/>
<line x1="0.5" y1="-37.43" x2="8.8" y2="-44.81"/>
<line x1="-8.8" y1="-36.05" x2="-3.5" y2="-40.73"/>
<line x1="-8.8" y1="-37.6" x2="3.25" y2="-27.6"/>
<line x1="0.5" y1="-30.53" x2="8.8" y2="-37.91"/>
<line x1="-8.8" y1="-29.15" x2="-3.5" y2="-33.83"/>
<line x1="-8.8" y1="-30.7" x2="3.25" y2="-20.7"/>
<line x1="0.5" y1="-23.63" x2="8.8" y2="-31.01"/>
<line x1="-8.8" y1="-22.25" x2="-3.5" y2="-26.93"/>
<line x1="-8.8" y1="-23.8" x2="3.25" y2="-13.8"/>
<line x1="0.5" y1="-16.73" x2="8.8" y2="-24.11"/>
<line x1="-8.8" y1="-15.35" x2="-3.5" y2="-20.03"/>
<line x1="-8.8" y1="-16.9" x2="3.25" y2="-6.9"/>
<line x1="0.5" y1="-9.83" x2="8.8" y2="-17.21"/>
<line x1="-8.8" y1="-8.45" x2="-3.5" y2="-13.13"/>
<line x1="-8.8" y1="-10" x2="3.25" y2="0"/>
<line x1="0.5" y1="-2.93" x2="8.8" y2="-10.31"/>
<line x1="-8.8" y1="-1.55" x2="-3.5" y2="-6.23"/>
<line x1="-8.8" y1="-3.1" x2="3.25" y2="6.9"/>
<line x1="0.5" y1="3.97" x2="8.8" y2="-3.41"/>
<line x1="-8.8" y1="5.35" x2="-3.5" y2="0.67"/>
<line x1="-8.8" y1="3.8" x2="3.25" y2="13.8"/>
<line x1="0.5" y1="10.87" x2="8.8" y2="3.49"/>
<line x1="-8.8" y1="12.25" x2="-3.5" y2="7.57"/>
<line x1="-8.8" y1="10.7" x2="3.25" y2="20.7"/>
<line x1="0.5" y1="17.77" x2="8.8" y2="10.39"/>
<line x1="-8.8" y1="19.15" x2="-3.5" y2="14.47"/>
<line x1="-8.8" y1="17.6" x2="3.25" y2="27.6"/>
<line x1="0.5" y1="24.67" x2="8.8" y2="17.29"/>
<line x1="-8.8" y1="26.05" x2="-3.5" y2="21.37"/>
<line x1="-8.8" y1="24.5" x2="3.25" y2="34.5"/>
<line x1="0.5" y1="31.57" x2="8.8" y2="24.19"/>
<line x1="-8.8" y1="32.95" x2="-3.5" y2="28.27"/>
<line x1="-8.8" y1="31.4" x2="3.25" y2="41.4"/>
<line x1="0.5" y1="38.47" x2="8.8" y2="31.09"/>
<line x1="-8.8" y1="39.85" x2="-3.5" y2="35.17"/>
<line x1="-8.8" y1="38.3" x2="3.25" y2="48.3"/>
<line x1="0.5" y1="45.37" x2="8.8" y2="37.99"/>
<line x1="-8.8" y1="46.75" x2="-3.5" y2="42.07"/>
<line x1="-8.8" y1="45.2" x2="3.25" y2="55.2"/>
<line x1="0.5" y1="52.27" x2="8.8" y2="44.89"/>
<line x1="-8.8" y1="53.65" x2="-3.5" y2="48.97"/>
<line x1="-8.8" y1="52.1" x2="3.25" y2="62.1"/>
<line x1="0.5" y1="59.17" x2="8.8" y2="51.79"/>
<line x1="-8.8" y1="60.55" x2="-3.5" y2="55.87"/>
<line x1="-8.8" y1="59" x2="3.25" y2="69"/>
<line x1="0.5" y1="66.07" x2="8.8" y2="58.69"/>
<line x1="-8.8" y1="67.45" x2="-3.5" y2="62.77"/>
<line x1="-8.8" y1="65.9" x2="3.25" y2="75.9"/>
<line x1="0.5" y1="72.97" x2="8.8" y2="65.59"/>
<line x1="-8.8" y1="74.35" x2="-3.5" y2="69.67"/>
<line x1="-8.8" y1="72.8" x2="3.25" y2="82.8"/>
<line x1="0.5" y1="79.87" x2="8.8" y2="72.49"/>
<line x1="-8.8" y1="81.25" x2="-3.5" y2="76.57"/>
<line x1="-8.8" y1="79.7" x2="3.25" y2="89.7"/>
<line x1="0.5" y1="86.77" x2="8.8" y2="79.39"/>
<line x1="-8.8" y1="88.15" x2="-3.5" y2="83.47"/>
<line x1="-8.8" y1="86.6" x2="3.25" y2="96.6"/>
<line x1="0.5" y1="93.67" x2="8.8" y2="86.29"/>
<line x1="-8.8" y1="95.05" x2="-3.5" y2="90.37"/>
<line x1="-8.8" y1="93.5" x2="3.25" y2="103.5"/>
<line x1="0.5" y1="100.57" x2="8.8" y2="93.19"/>
<line x1="-8.8" y1="101.95" x2="-3.5" y2="97.27"/>
<line x1="-8.8" y1="100.4" x2="3.25" y2="110.4"/>
<line x1="0.5" y1="107.47" x2="8.8" y2="100.09"/>
<line x1="-8.8" y1="108.85" x2="-3.5" y2="104.17"/>
<line x1="-8.8" y1="107.3" x2="3.25" y2="117.3"/>
<line x1="0.5" y1="114.37" x2="8.8" y2="106.99"/>
<line x1="-8.8" y1="115.75" x2="-3.5" y2="111.07"/>
<line x1="-8.8" y1="114.2" x2="3.25" y2="124.2"/>
<line x1="0.5" y1="121.27" x2="8.8" y2="113.89"/>
<line x1="-8.8" y1="122.65" x2="-3.5" y2="117.97"/>
</g>
<line x1="-8.8" y1="0" x2="-8.8" y2="77" stroke="#000" stroke-width="1.2"/>
<line x1="8.8" y1="0" x2="8.8" y2="77" stroke="#000" stroke-width="1.6"/>
</g>
<path d="M364,409.5 Q370,406.5 376,409 Q382,411.5 388,408.5 L388,415.5 Q382,418.5 376,416 Q370,413.5 364,416.5 Z" stroke="none" stroke-width="0" fill="#fff" />
<path d="M366.8,409.3 Q371,406.9 376,409 Q381,411.2 384.4,409.6" stroke="#000" stroke-width="1.1" fill="none" />
<path d="M366.8,416.3 Q371,413.9 376,416 Q381,418.2 384.4,416.6" stroke="#000" stroke-width="1.1" fill="none" />
<path d="M402,409.5 Q408,406.5 414,409 Q420,411.5 426,408.5 L426,415.5 Q420,418.5 414,416 Q408,413.5 402,416.5 Z" stroke="none" stroke-width="0" fill="#fff" />
<path d="M404.9,409.3 Q409,406.9 414,409 Q419,411.2 422.5,409.6" stroke="#000" stroke-width="1.1" fill="none" />
<path d="M404.9,416.3 Q409,413.9 414,416 Q419,418.2 422.5,416.6" stroke="#000" stroke-width="1.1" fill="none" />
<rect x="385.6" y="397.5" width="18.4" height="22.5" stroke="#000" stroke-width="1.3" fill="#fff"/>
<line x1="392.5" y1="397.5" x2="392.5" y2="420" stroke="#000" stroke-width="1.0" />
<line x1="401" y1="397.5" x2="401" y2="420" stroke="#000" stroke-width="1.0" />
<rect x="388.2" y="421.5" width="12.6" height="14.5" stroke="none" stroke-width="0" fill="#111"/>
<line x1="388.8" y1="422.45" x2="400.2" y2="422.45" stroke="#fff" stroke-width="0.75" />
<line x1="388.8" y1="424.35" x2="400.2" y2="424.35" stroke="#fff" stroke-width="0.75" />
<line x1="388.8" y1="426.25" x2="400.2" y2="426.25" stroke="#fff" stroke-width="0.75" />
<line x1="388.8" y1="428.15" x2="400.2" y2="428.15" stroke="#fff" stroke-width="0.75" />
<line x1="388.8" y1="430.05" x2="400.2" y2="430.05" stroke="#fff" stroke-width="0.75" />
<line x1="388.8" y1="431.95" x2="400.2" y2="431.95" stroke="#fff" stroke-width="0.75" />
<line x1="388.8" y1="433.85" x2="400.2" y2="433.85" stroke="#fff" stroke-width="0.75" />
<path d="M387.9,420 L387.9,435 Q388,437.6 391,437.6 L398,437.6 Q401,437.6 401,435 L401,420" stroke="#000" stroke-width="1.2" fill="none" />
<g transform="translate(375.8,586.6) rotate(0)" stroke="#000" fill="#fff"><rect x="-8.3" y="0" width="16.6" height="16.6" stroke-width="1.2"/><path d="M-8.3,2.5 Q0,4.5 8.3,2.5" stroke-width="1.1" fill="none"/><path d="M-8.3,5.8 Q0,7.8 8.3,5.8" stroke-width="1.1" fill="none"/><path d="M-8.3,9.1 Q0,11.1 8.3,9.1" stroke-width="1.1" fill="none"/><path d="M-8.3,12.4 Q0,14.4 8.3,12.4" stroke-width="1.1" fill="none"/></g>
<g transform="translate(376,603.2) rotate(0)" stroke="#000" fill="#fff"><path d="M-14.75,2 Q-14.75,0.2 -10.75,0 L10.75,0 Q14.75,0.2 14.75,2 L14.75,16.8 Q0,20.2 -14.75,16.8 Z" stroke-width="1.6"/><path d="M-14.25,1.6 Q0,5.6 14.25,1.6" stroke-width="1.1" fill="none"/><line x1="0" y1="3.6" x2="0" y2="18.6" stroke-width="1.5"/></g>
<line x1="606.7" y1="50.5" x2="606.7" y2="164" stroke="#000" stroke-width="1.0" />
<line x1="887.9" y1="50.5" x2="887.9" y2="175" stroke="#000" stroke-width="1.0" />
<line x1="606.7" y1="55.8" x2="887.9" y2="55.8" stroke="#000" stroke-width="1.0" />
<path d="M607.1,55.8 L617.1,54.05 L617.1,57.55 Z" fill="#000"/>
<path d="M887.5,55.8 L877.5,57.55 L877.5,54.05 Z" fill="#000"/>
<text transform="translate(747.77,48.45) scale(0.772946707999473,1)" x="0" y="5.32" font-family="Liberation Sans" font-size="14.782935184632013" letter-spacing="1.3" text-anchor="middle" fill="#000" stroke="#000" stroke-width="0.3">174.1</text>
<path d="M606.7,164 Q622,153.5 640,149 L834,114 L837.7,114 L837.7,119 L834,120.3 L693,154.3 Q688,158 687.5,162 L686,170.6 L680,171.6 L621.5,174.5 L608.6,174.5 Z" stroke="#000" stroke-width="1.6" fill="#fff" />
<path d="M657.5,172.2 Q661,162 675,157 L827,118.8" stroke="#000" stroke-width="1.3" fill="none" />
<line x1="829" y1="114.6" x2="829" y2="120" stroke="#000" stroke-width="0.9" />
<line x1="831.5" y1="114.2" x2="831.5" y2="119.6" stroke="#000" stroke-width="0.9" />
<path d="M621.3,174.6 L621.3,188.2" stroke="#000" stroke-width="1.1" fill="none" />
<line x1="621.3" y1="177.2" x2="682" y2="176.8" stroke="#000" stroke-width="1.0" />
<path d="M680,171.6 L682.5,177 L682.5,180" stroke="#000" stroke-width="1.0" fill="none" />
<line x1="630" y1="175.4" x2="650" y2="175.2" stroke="#333" stroke-width="1.6" />
<path d="M607.6,190.4 L682.5,179.6 L887.7,172.8" stroke="#000" stroke-width="1.2" fill="none" />
<path d="M612.2,192.6 L651,185.6" stroke="#000" stroke-width="1.0" fill="none" />
<path d="M682.5,181.2 L874,175.5" stroke="#000" stroke-width="1.0" fill="none" />
<path d="M607.6,190.4 C611,215 613.7,240 613.7,265 L613.7,333.7" stroke="#000" stroke-width="1.2" fill="none" />
<path d="M887.7,172.8 C888,178 886.5,182 882,186 C878,189 876.5,192 876.5,196 L875.8,197.4 L866,200.2" stroke="#000" stroke-width="1.2" fill="none" />
<path d="M764,192 L878,185.2" stroke="#000" stroke-width="0.8" fill="none" />
<path d="M659.4,253.8 C662,225 690,203 757,191.2" stroke="#000" stroke-width="1.3" fill="none" />
<path d="M676,220.5 C692,207 715,199 756,192.9" stroke="#333" stroke-width="0.8" fill="none" />
<path d="M762.5,190.4 L884.5,182.8" stroke="#000" stroke-width="1.0" fill="none" />
<path d="M697.6,334 L697.6,252 C698,232 712,214 735,207 C765,199 800,196.3 821.5,196.1 C825.5,196.3 826.8,199 828.3,203.3 Q829.5,204.9 832,204.9 L866,200.4" stroke="#000" stroke-width="1.2" fill="none" />
<path d="M837.6,205.5 L866.6,201 L866.8,203 L838,207.4 Z" stroke="#000" stroke-width="0.9" fill="#222" />
<rect x="608.5" y="333.5" width="94.8" height="6" stroke="#000" stroke-width="1.2" fill="#fff"/>
<line x1="609" y1="335.2" x2="703" y2="335.2" stroke="#000" stroke-width="0.8" />
<line x1="655.5" y1="259" x2="655.5" y2="336" stroke="#000" stroke-width="1.0" />
<line x1="852.8" y1="205" x2="852.8" y2="270.3" stroke="#000" stroke-width="1.0" />
<line x1="655.5" y1="265.5" x2="852.8" y2="265.5" stroke="#000" stroke-width="1.0" />
<path d="M655.9,265.5 L665.9,263.75 L665.9,267.25 Z" fill="#000"/>
<path d="M852.4,265.5 L842.4,267.25 L842.4,263.75 Z" fill="#000"/>
<text transform="translate(754.65,257.7) scale(0.7777385600727671,1)" x="0" y="5.44" font-family="Liberation Sans" font-size="15.121849806042599" letter-spacing="1.3" text-anchor="middle" fill="#000" stroke="#000" stroke-width="0.3">121.8</text>
<line x1="853" y1="205" x2="859.4" y2="249.8" stroke="#000" stroke-width="1.0" />
<path d="M820.3,232.8 Q840,246.5 853,245.2 Q866,244.5 876.9,236.9" stroke="#000" stroke-width="1.0" fill="none" />
<path d="M852.6,245.1 L844.46,245.57 L844.9,242.4 Z" fill="#000"/>
<path d="M859.6,244.6 L867.43,242.31 L867.71,245.5 Z" fill="#000"/>
<text transform="translate(830.8,229.8) rotate(27) scale(0.88,1)" x="0" y="5.4" font-family="Liberation Sans" font-size="15" letter-spacing="0" text-anchor="middle" fill="#000" stroke="#000" stroke-width="0.35">8°</text>
<line x1="853" y1="204.8" x2="917.2" y2="204.8" stroke="#000" stroke-width="1.0" />
<line x1="703" y1="339.6" x2="918.6" y2="339.6" stroke="#000" stroke-width="1.0" />
<line x1="911.8" y1="204.8" x2="911.8" y2="339.6" stroke="#000" stroke-width="1.0" />
<path d="M911.8,205.2 L913.55,215.2 L910.05,215.2 Z" fill="#000"/>
<path d="M911.8,339.2 L910.05,329.2 L913.55,329.2 Z" fill="#000"/>
<text transform="translate(904.3,271.95) rotate(-90) scale(0.8222226373948602,1)" x="0" y="5.44" font-family="Liberation Sans" font-size="15.121849806040617" letter-spacing="1.3" text-anchor="middle" fill="#000" stroke="#000" stroke-width="0.3">83.5</text>
<line x1="558.6" y1="339.6" x2="703" y2="339.6" stroke="#000" stroke-width="1.6" />
<line x1="558.6" y1="380.4" x2="766.6" y2="380.4" stroke="#000" stroke-width="1.6" />
<line x1="703" y1="339.6" x2="766.6" y2="339.6" stroke="#000" stroke-width="1.6" />
<line x1="558.6" y1="343.32" x2="562.32" y2="339.6" stroke="#000" stroke-width="1.35" />
<line x1="558.6" y1="352.69" x2="571.69" y2="339.6" stroke="#000" stroke-width="1.35" />
<line x1="558.6" y1="362.06" x2="581.06" y2="339.6" stroke="#000" stroke-width="1.35" />
<line x1="558.6" y1="371.43" x2="590.43" y2="339.6" stroke="#000" stroke-width="1.35" />
<line x1="559" y1="380.4" x2="599.8" y2="339.6" stroke="#000" stroke-width="1.35" />
<line x1="568.37" y1="380.4" x2="609.17" y2="339.6" stroke="#000" stroke-width="1.35" />
<line x1="577.74" y1="380.4" x2="618.54" y2="339.6" stroke="#000" stroke-width="1.35" />
<line x1="587.11" y1="380.4" x2="627.91" y2="339.6" stroke="#000" stroke-width="1.35" />
<line x1="596.48" y1="380.4" x2="634.3" y2="342.58" stroke="#000" stroke-width="1.35" />
<line x1="605.85" y1="380.4" x2="634.3" y2="351.95" stroke="#000" stroke-width="1.35" />
<line x1="615.22" y1="380.4" x2="634.3" y2="361.32" stroke="#000" stroke-width="1.35" />
<line x1="624.59" y1="380.4" x2="634.3" y2="370.69" stroke="#000" stroke-width="1.35" />
<line x1="633.96" y1="380.4" x2="634.3" y2="380.06" stroke="#000" stroke-width="1.35" />
<line x1="691.8" y1="341.3" x2="693.5" y2="339.6" stroke="#000" stroke-width="1.35" />
<line x1="691.8" y1="350.67" x2="702.87" y2="339.6" stroke="#000" stroke-width="1.35" />
<line x1="691.8" y1="360.04" x2="712.24" y2="339.6" stroke="#000" stroke-width="1.35" />
<line x1="691.8" y1="369.41" x2="721.61" y2="339.6" stroke="#000" stroke-width="1.35" />
<line x1="691.8" y1="378.78" x2="730.98" y2="339.6" stroke="#000" stroke-width="1.35" />
<line x1="699.55" y1="380.4" x2="740.35" y2="339.6" stroke="#000" stroke-width="1.35" />
<line x1="708.92" y1="380.4" x2="749.72" y2="339.6" stroke="#000" stroke-width="1.35" />
<line x1="718.29" y1="380.4" x2="759.09" y2="339.6" stroke="#000" stroke-width="1.35" />
<line x1="727.66" y1="380.4" x2="766.6" y2="341.46" stroke="#000" stroke-width="1.35" />
<line x1="737.03" y1="380.4" x2="766.6" y2="350.83" stroke="#000" stroke-width="1.35" />
<line x1="746.4" y1="380.4" x2="766.6" y2="360.2" stroke="#000" stroke-width="1.35" />
<line x1="755.77" y1="380.4" x2="766.6" y2="369.57" stroke="#000" stroke-width="1.35" />
<line x1="765.14" y1="380.4" x2="766.6" y2="378.94" stroke="#000" stroke-width="1.35" />
<line x1="634.3" y1="339.6" x2="634.3" y2="380.4" stroke="#000" stroke-width="1.3" />
<line x1="691.8" y1="339.6" x2="691.8" y2="380.4" stroke="#000" stroke-width="1.3" />
<rect x="649" y="341" width="13.8" height="95" stroke="none" stroke-width="0" fill="#111"/>
<line x1="649.6" y1="341.95" x2="662.2" y2="341.95" stroke="#fff" stroke-width="0.75" />
<line x1="649.6" y1="343.85" x2="662.2" y2="343.85" stroke="#fff" stroke-width="0.75" />
<line x1="649.6" y1="345.75" x2="662.2" y2="345.75" stroke="#fff" stroke-width="0.75" />
<line x1="649.6" y1="347.65" x2="662.2" y2="347.65" stroke="#fff" stroke-width="0.75" />
<line x1="649.6" y1="349.55" x2="662.2" y2="349.55" stroke="#fff" stroke-width="0.75" />
<line x1="649.6" y1="351.45" x2="662.2" y2="351.45" stroke="#fff" stroke-width="0.75" />
<line x1="649.6" y1="353.35" x2="662.2" y2="353.35" stroke="#fff" stroke-width="0.75" />
<line x1="649.6" y1="355.25" x2="662.2" y2="355.25" stroke="#fff" stroke-width="0.75" />
<line x1="649.6" y1="357.15" x2="662.2" y2="357.15" stroke="#fff" stroke-width="0.75" />
<line x1="649.6" y1="359.05" x2="662.2" y2="359.05" stroke="#fff" stroke-width="0.75" />
<line x1="649.6" y1="360.95" x2="662.2" y2="360.95" stroke="#fff" stroke-width="0.75" />
<line x1="649.6" y1="362.85" x2="662.2" y2="362.85" stroke="#fff" stroke-width="0.75" />
<line x1="649.6" y1="364.75" x2="662.2" y2="364.75" stroke="#fff" stroke-width="0.75" />
<line x1="649.6" y1="366.65" x2="662.2" y2="366.65" stroke="#fff" stroke-width="0.75" />
<line x1="649.6" y1="368.55" x2="662.2" y2="368.55" stroke="#fff" stroke-width="0.75" />
<line x1="649.6" y1="370.45" x2="662.2" y2="370.45" stroke="#fff" stroke-width="0.75" />
<line x1="649.6" y1="372.35" x2="662.2" y2="372.35" stroke="#fff" stroke-width="0.75" />
<line x1="649.6" y1="374.25" x2="662.2" y2="374.25" stroke="#fff" stroke-width="0.75" />
<line x1="649.6" y1="376.15" x2="662.2" y2="376.15" stroke="#fff" stroke-width="0.75" />
<line x1="649.6" y1="378.05" x2="662.2" y2="378.05" stroke="#fff" stroke-width="0.75" />
<line x1="649.6" y1="379.95" x2="662.2" y2="379.95" stroke="#fff" stroke-width="0.75" />
<line x1="649.6" y1="381.85" x2="662.2" y2="381.85" stroke="#fff" stroke-width="0.75" />
<line x1="649.6" y1="383.75" x2="662.2" y2="383.75" stroke="#fff" stroke-width="0.75" />
<line x1="649.6" y1="385.65" x2="662.2" y2="385.65" stroke="#fff" stroke-width="0.75" />
<line x1="649.6" y1="387.55" x2="662.2" y2="387.55" stroke="#fff" stroke-width="0.75" />
<line x1="649.6" y1="389.45" x2="662.2" y2="389.45" stroke="#fff" stroke-width="0.75" />
<line x1="649.6" y1="391.35" x2="662.2" y2="391.35" stroke="#fff" stroke-width="0.75" />
<line x1="649.6" y1="393.25" x2="662.2" y2="393.25" stroke="#fff" stroke-width="0.75" />
<line x1="649.6" y1="395.15" x2="662.2" y2="395.15" stroke="#fff" stroke-width="0.75" />
<line x1="649.6" y1="397.05" x2="662.2" y2="397.05" stroke="#fff" stroke-width="0.75" />
<line x1="649.6" y1="398.95" x2="662.2" y2="398.95" stroke="#fff" stroke-width="0.75" />
<line x1="649.6" y1="400.85" x2="662.2" y2="400.85" stroke="#fff" stroke-width="0.75" />
<line x1="649.6" y1="402.75" x2="662.2" y2="402.75" stroke="#fff" stroke-width="0.75" />
<line x1="649.6" y1="404.65" x2="662.2" y2="404.65" stroke="#fff" stroke-width="0.75" />
<line x1="649.6" y1="406.55" x2="662.2" y2="406.55" stroke="#fff" stroke-width="0.75" />
<line x1="649.6" y1="408.45" x2="662.2" y2="408.45" stroke="#fff" stroke-width="0.75" />
<line x1="649.6" y1="410.35" x2="662.2" y2="410.35" stroke="#fff" stroke-width="0.75" />
<line x1="649.6" y1="412.25" x2="662.2" y2="412.25" stroke="#fff" stroke-width="0.75" />
<line x1="649.6" y1="414.15" x2="662.2" y2="414.15" stroke="#fff" stroke-width="0.75" />
<line x1="649.6" y1="416.05" x2="662.2" y2="416.05" stroke="#fff" stroke-width="0.75" />
<line x1="649.6" y1="417.95" x2="662.2" y2="417.95" stroke="#fff" stroke-width="0.75" />
<line x1="649.6" y1="419.85" x2="662.2" y2="419.85" stroke="#fff" stroke-width="0.75" />
<line x1="649.6" y1="421.75" x2="662.2" y2="421.75" stroke="#fff" stroke-width="0.75" />
<line x1="649.6" y1="423.65" x2="662.2" y2="423.65" stroke="#fff" stroke-width="0.75" />
<line x1="649.6" y1="425.55" x2="662.2" y2="425.55" stroke="#fff" stroke-width="0.75" />
<line x1="649.6" y1="427.45" x2="662.2" y2="427.45" stroke="#fff" stroke-width="0.75" />
<line x1="649.6" y1="429.35" x2="662.2" y2="429.35" stroke="#fff" stroke-width="0.75" />
<line x1="649.6" y1="431.25" x2="662.2" y2="431.25" stroke="#fff" stroke-width="0.75" />
<line x1="649.6" y1="433.15" x2="662.2" y2="433.15" stroke="#fff" stroke-width="0.75" />
<line x1="649.6" y1="435.05" x2="662.2" y2="435.05" stroke="#fff" stroke-width="0.75" />
<line x1="648.8" y1="339.6" x2="648.8" y2="396.3" stroke="#000" stroke-width="1.2" />
<line x1="663" y1="339.6" x2="663" y2="396.3" stroke="#000" stroke-width="1.2" />
<line x1="672.8" y1="339.6" x2="672.8" y2="380.4" stroke="#000" stroke-width="1.0" />
<g transform="translate(682,339.6) rotate(0)">
<clipPath id="bs1"><rect x="-8.8" y="0" width="17.6" height="48.9"/></clipPath>
<rect x="-8.8" y="0" width="17.6" height="48.9" fill="#fff"/>
<g clip-path="url(#bs1)" stroke="#000" stroke-width="1.6" fill="none">
<line x1="-8.8" y1="-44.5" x2="3.25" y2="-34.5"/>
<line x1="0.5" y1="-37.43" x2="8.8" y2="-44.81"/>
<line x1="-8.8" y1="-36.05" x2="-3.5" y2="-40.73"/>
<line x1="-8.8" y1="-37.6" x2="3.25" y2="-27.6"/>
<line x1="0.5" y1="-30.53" x2="8.8" y2="-37.91"/>
<line x1="-8.8" y1="-29.15" x2="-3.5" y2="-33.83"/>
<line x1="-8.8" y1="-30.7" x2="3.25" y2="-20.7"/>
<line x1="0.5" y1="-23.63" x2="8.8" y2="-31.01"/>
<line x1="-8.8" y1="-22.25" x2="-3.5" y2="-26.93"/>
<line x1="-8.8" y1="-23.8" x2="3.25" y2="-13.8"/>
<line x1="0.5" y1="-16.73" x2="8.8" y2="-24.11"/>
<line x1="-8.8" y1="-15.35" x2="-3.5" y2="-20.03"/>
<line x1="-8.8" y1="-16.9" x2="3.25" y2="-6.9"/>
<line x1="0.5" y1="-9.83" x2="8.8" y2="-17.21"/>
<line x1="-8.8" y1="-8.45" x2="-3.5" y2="-13.13"/>
<line x1="-8.8" y1="-10" x2="3.25" y2="0"/>
<line x1="0.5" y1="-2.93" x2="8.8" y2="-10.31"/>
<line x1="-8.8" y1="-1.55" x2="-3.5" y2="-6.23"/>
<line x1="-8.8" y1="-3.1" x2="3.25" y2="6.9"/>
<line x1="0.5" y1="3.97" x2="8.8" y2="-3.41"/>
<line x1="-8.8" y1="5.35" x2="-3.5" y2="0.67"/>
<line x1="-8.8" y1="3.8" x2="3.25" y2="13.8"/>
<line x1="0.5" y1="10.87" x2="8.8" y2="3.49"/>
<line x1="-8.8" y1="12.25" x2="-3.5" y2="7.57"/>
<line x1="-8.8" y1="10.7" x2="3.25" y2="20.7"/>
<line x1="0.5" y1="17.77" x2="8.8" y2="10.39"/>
<line x1="-8.8" y1="19.15" x2="-3.5" y2="14.47"/>
<line x1="-8.8" y1="17.6" x2="3.25" y2="27.6"/>
<line x1="0.5" y1="24.67" x2="8.8" y2="17.29"/>
<line x1="-8.8" y1="26.05" x2="-3.5" y2="21.37"/>
<line x1="-8.8" y1="24.5" x2="3.25" y2="34.5"/>
<line x1="0.5" y1="31.57" x2="8.8" y2="24.19"/>
<line x1="-8.8" y1="32.95" x2="-3.5" y2="28.27"/>
<line x1="-8.8" y1="31.4" x2="3.25" y2="41.4"/>
<line x1="0.5" y1="38.47" x2="8.8" y2="31.09"/>
<line x1="-8.8" y1="39.85" x2="-3.5" y2="35.17"/>
<line x1="-8.8" y1="38.3" x2="3.25" y2="48.3"/>
<line x1="0.5" y1="45.37" x2="8.8" y2="37.99"/>
<line x1="-8.8" y1="46.75" x2="-3.5" y2="42.07"/>
<line x1="-8.8" y1="45.2" x2="3.25" y2="55.2"/>
<line x1="0.5" y1="52.27" x2="8.8" y2="44.89"/>
<line x1="-8.8" y1="53.65" x2="-3.5" y2="48.97"/>
<line x1="-8.8" y1="52.1" x2="3.25" y2="62.1"/>
<line x1="0.5" y1="59.17" x2="8.8" y2="51.79"/>
<line x1="-8.8" y1="60.55" x2="-3.5" y2="55.87"/>
<line x1="-8.8" y1="59" x2="3.25" y2="69"/>
<line x1="0.5" y1="66.07" x2="8.8" y2="58.69"/>
<line x1="-8.8" y1="67.45" x2="-3.5" y2="62.77"/>
<line x1="-8.8" y1="65.9" x2="3.25" y2="75.9"/>
<line x1="0.5" y1="72.97" x2="8.8" y2="65.59"/>
<line x1="-8.8" y1="74.35" x2="-3.5" y2="69.67"/>
<line x1="-8.8" y1="72.8" x2="3.25" y2="82.8"/>
<line x1="0.5" y1="79.87" x2="8.8" y2="72.49"/>
<line x1="-8.8" y1="81.25" x2="-3.5" y2="76.57"/>
<line x1="-8.8" y1="79.7" x2="3.25" y2="89.7"/>
<line x1="0.5" y1="86.77" x2="8.8" y2="79.39"/>
<line x1="-8.8" y1="88.15" x2="-3.5" y2="83.47"/>
<line x1="-8.8" y1="86.6" x2="3.25" y2="96.6"/>
<line x1="0.5" y1="93.67" x2="8.8" y2="86.29"/>
<line x1="-8.8" y1="95.05" x2="-3.5" y2="90.37"/>
</g>
<line x1="-8.8" y1="0" x2="-8.8" y2="48.9" stroke="#000" stroke-width="1.6"/>
<line x1="8.8" y1="0" x2="8.8" y2="48.9" stroke="#000" stroke-width="1.2"/>
</g>
<rect x="623.8" y="380.5" width="78.6" height="8.1" stroke="#000" stroke-width="1.3" fill="#fff"/>
<line x1="624.3" y1="385.4" x2="702" y2="385.4" stroke="#000" stroke-width="1.0" />
<g transform="translate(682,388.6) rotate(0)">
<clipPath id="bs2"><rect x="-8.8" y="0" width="17.6" height="21"/></clipPath>
<rect x="-8.8" y="0" width="17.6" height="21" fill="#fff"/>
<g clip-path="url(#bs2)" stroke="#000" stroke-width="1.6" fill="none">
<line x1="-8.8" y1="-44.5" x2="3.25" y2="-34.5"/>
<line x1="0.5" y1="-37.43" x2="8.8" y2="-44.81"/>
<line x1="-8.8" y1="-36.05" x2="-3.5" y2="-40.73"/>
<line x1="-8.8" y1="-37.6" x2="3.25" y2="-27.6"/>
<line x1="0.5" y1="-30.53" x2="8.8" y2="-37.91"/>
<line x1="-8.8" y1="-29.15" x2="-3.5" y2="-33.83"/>
<line x1="-8.8" y1="-30.7" x2="3.25" y2="-20.7"/>
<line x1="0.5" y1="-23.63" x2="8.8" y2="-31.01"/>
<line x1="-8.8" y1="-22.25" x2="-3.5" y2="-26.93"/>
<line x1="-8.8" y1="-23.8" x2="3.25" y2="-13.8"/>
<line x1="0.5" y1="-16.73" x2="8.8" y2="-24.11"/>
<line x1="-8.8" y1="-15.35" x2="-3.5" y2="-20.03"/>
<line x1="-8.8" y1="-16.9" x2="3.25" y2="-6.9"/>
<line x1="0.5" y1="-9.83" x2="8.8" y2="-17.21"/>
<line x1="-8.8" y1="-8.45" x2="-3.5" y2="-13.13"/>
<line x1="-8.8" y1="-10" x2="3.25" y2="0"/>
<line x1="0.5" y1="-2.93" x2="8.8" y2="-10.31"/>
<line x1="-8.8" y1="-1.55" x2="-3.5" y2="-6.23"/>
<line x1="-8.8" y1="-3.1" x2="3.25" y2="6.9"/>
<line x1="0.5" y1="3.97" x2="8.8" y2="-3.41"/>
<line x1="-8.8" y1="5.35" x2="-3.5" y2="0.67"/>
<line x1="-8.8" y1="3.8" x2="3.25" y2="13.8"/>
<line x1="0.5" y1="10.87" x2="8.8" y2="3.49"/>
<line x1="-8.8" y1="12.25" x2="-3.5" y2="7.57"/>
<line x1="-8.8" y1="10.7" x2="3.25" y2="20.7"/>
<line x1="0.5" y1="17.77" x2="8.8" y2="10.39"/>
<line x1="-8.8" y1="19.15" x2="-3.5" y2="14.47"/>
<line x1="-8.8" y1="17.6" x2="3.25" y2="27.6"/>
<line x1="0.5" y1="24.67" x2="8.8" y2="17.29"/>
<line x1="-8.8" y1="26.05" x2="-3.5" y2="21.37"/>
<line x1="-8.8" y1="24.5" x2="3.25" y2="34.5"/>
<line x1="0.5" y1="31.57" x2="8.8" y2="24.19"/>
<line x1="-8.8" y1="32.95" x2="-3.5" y2="28.27"/>
<line x1="-8.8" y1="31.4" x2="3.25" y2="41.4"/>
<line x1="0.5" y1="38.47" x2="8.8" y2="31.09"/>
<line x1="-8.8" y1="39.85" x2="-3.5" y2="35.17"/>
<line x1="-8.8" y1="38.3" x2="3.25" y2="48.3"/>
<line x1="0.5" y1="45.37" x2="8.8" y2="37.99"/>
<line x1="-8.8" y1="46.75" x2="-3.5" y2="42.07"/>
<line x1="-8.8" y1="45.2" x2="3.25" y2="55.2"/>
<line x1="0.5" y1="52.27" x2="8.8" y2="44.89"/>
<line x1="-8.8" y1="53.65" x2="-3.5" y2="48.97"/>
<line x1="-8.8" y1="52.1" x2="3.25" y2="62.1"/>
<line x1="0.5" y1="59.17" x2="8.8" y2="51.79"/>
<line x1="-8.8" y1="60.55" x2="-3.5" y2="55.87"/>
<line x1="-8.8" y1="59" x2="3.25" y2="69"/>
<line x1="0.5" y1="66.07" x2="8.8" y2="58.69"/>
<line x1="-8.8" y1="67.45" x2="-3.5" y2="62.77"/>
</g>
<line x1="-8.8" y1="0" x2="-8.8" y2="21" stroke="#000" stroke-width="1.6"/>
<line x1="8.8" y1="0" x2="8.8" y2="21" stroke="#000" stroke-width="1.2"/>
</g>
<g transform="translate(682,489) rotate(-17.6)">
<clipPath id="bhs"><rect x="-8.8" y="0" width="17.6" height="69"/></clipPath>
<rect x="-8.8" y="0" width="17.6" height="69" fill="#fff"/>
<g clip-path="url(#bhs)" stroke="#000" stroke-width="1.6" fill="none">
<line x1="-8.8" y1="-44.5" x2="3.25" y2="-34.5"/>
<line x1="0.5" y1="-37.43" x2="8.8" y2="-44.81"/>
<line x1="-8.8" y1="-36.05" x2="-3.5" y2="-40.73"/>
<line x1="-8.8" y1="-37.6" x2="3.25" y2="-27.6"/>
<line x1="0.5" y1="-30.53" x2="8.8" y2="-37.91"/>
<line x1="-8.8" y1="-29.15" x2="-3.5" y2="-33.83"/>
<line x1="-8.8" y1="-30.7" x2="3.25" y2="-20.7"/>
<line x1="0.5" y1="-23.63" x2="8.8" y2="-31.01"/>
<line x1="-8.8" y1="-22.25" x2="-3.5" y2="-26.93"/>
<line x1="-8.8" y1="-23.8" x2="3.25" y2="-13.8"/>
<line x1="0.5" y1="-16.73" x2="8.8" y2="-24.11"/>
<line x1="-8.8" y1="-15.35" x2="-3.5" y2="-20.03"/>
<line x1="-8.8" y1="-16.9" x2="3.25" y2="-6.9"/>
<line x1="0.5" y1="-9.83" x2="8.8" y2="-17.21"/>
<line x1="-8.8" y1="-8.45" x2="-3.5" y2="-13.13"/>
<line x1="-8.8" y1="-10" x2="3.25" y2="0"/>
<line x1="0.5" y1="-2.93" x2="8.8" y2="-10.31"/>
<line x1="-8.8" y1="-1.55" x2="-3.5" y2="-6.23"/>
<line x1="-8.8" y1="-3.1" x2="3.25" y2="6.9"/>
<line x1="0.5" y1="3.97" x2="8.8" y2="-3.41"/>
<line x1="-8.8" y1="5.35" x2="-3.5" y2="0.67"/>
<line x1="-8.8" y1="3.8" x2="3.25" y2="13.8"/>
<line x1="0.5" y1="10.87" x2="8.8" y2="3.49"/>
<line x1="-8.8" y1="12.25" x2="-3.5" y2="7.57"/>
<line x1="-8.8" y1="10.7" x2="3.25" y2="20.7"/>
<line x1="0.5" y1="17.77" x2="8.8" y2="10.39"/>
<line x1="-8.8" y1="19.15" x2="-3.5" y2="14.47"/>
<line x1="-8.8" y1="17.6" x2="3.25" y2="27.6"/>
<line x1="0.5" y1="24.67" x2="8.8" y2="17.29"/>
<line x1="-8.8" y1="26.05" x2="-3.5" y2="21.37"/>
<line x1="-8.8" y1="24.5" x2="3.25" y2="34.5"/>
<line x1="0.5" y1="31.57" x2="8.8" y2="24.19"/>
<line x1="-8.8" y1="32.95" x2="-3.5" y2="28.27"/>
<line x1="-8.8" y1="31.4" x2="3.25" y2="41.4"/>
<line x1="0.5" y1="38.47" x2="8.8" y2="31.09"/>
<line x1="-8.8" y1="39.85" x2="-3.5" y2="35.17"/>
<line x1="-8.8" y1="38.3" x2="3.25" y2="48.3"/>
<line x1="0.5" y1="45.37" x2="8.8" y2="37.99"/>
<line x1="-8.8" y1="46.75" x2="-3.5" y2="42.07"/>
<line x1="-8.8" y1="45.2" x2="3.25" y2="55.2"/>
<line x1="0.5" y1="52.27" x2="8.8" y2="44.89"/>
<line x1="-8.8" y1="53.65" x2="-3.5" y2="48.97"/>
<line x1="-8.8" y1="52.1" x2="3.25" y2="62.1"/>
<line x1="0.5" y1="59.17" x2="8.8" y2="51.79"/>
<line x1="-8.8" y1="60.55" x2="-3.5" y2="55.87"/>
<line x1="-8.8" y1="59" x2="3.25" y2="69"/>
<line x1="0.5" y1="66.07" x2="8.8" y2="58.69"/>
<line x1="-8.8" y1="67.45" x2="-3.5" y2="62.77"/>
<line x1="-8.8" y1="65.9" x2="3.25" y2="75.9"/>
<line x1="0.5" y1="72.97" x2="8.8" y2="65.59"/>
<line x1="-8.8" y1="74.35" x2="-3.5" y2="69.67"/>
<line x1="-8.8" y1="72.8" x2="3.25" y2="82.8"/>
<line x1="0.5" y1="79.87" x2="8.8" y2="72.49"/>
<line x1="-8.8" y1="81.25" x2="-3.5" y2="76.57"/>
<line x1="-8.8" y1="79.7" x2="3.25" y2="89.7"/>
<line x1="0.5" y1="86.77" x2="8.8" y2="79.39"/>
<line x1="-8.8" y1="88.15" x2="-3.5" y2="83.47"/>
<line x1="-8.8" y1="86.6" x2="3.25" y2="96.6"/>
<line x1="0.5" y1="93.67" x2="8.8" y2="86.29"/>
<line x1="-8.8" y1="95.05" x2="-3.5" y2="90.37"/>
<line x1="-8.8" y1="93.5" x2="3.25" y2="103.5"/>
<line x1="0.5" y1="100.57" x2="8.8" y2="93.19"/>
<line x1="-8.8" y1="101.95" x2="-3.5" y2="97.27"/>
<line x1="-8.8" y1="100.4" x2="3.25" y2="110.4"/>
<line x1="0.5" y1="107.47" x2="8.8" y2="100.09"/>
<line x1="-8.8" y1="108.85" x2="-3.5" y2="104.17"/>
<line x1="-8.8" y1="107.3" x2="3.25" y2="117.3"/>
<line x1="0.5" y1="114.37" x2="8.8" y2="106.99"/>
<line x1="-8.8" y1="115.75" x2="-3.5" y2="111.07"/>
</g>
<line x1="-8.8" y1="0" x2="-8.8" y2="69" stroke="#000" stroke-width="1.6"/>
<line x1="8.8" y1="0" x2="8.8" y2="69" stroke="#000" stroke-width="1.2"/>
</g>
<g transform="translate(702.86,554.77) rotate(-17.6)" stroke="#000" fill="#fff"><rect x="-8.3" y="0" width="16.6" height="13.5" stroke-width="1.2"/><path d="M-8.3,2.5 Q0,4.5 8.3,2.5" stroke-width="1.1" fill="none"/><path d="M-8.3,5.8 Q0,7.8 8.3,5.8" stroke-width="1.1" fill="none"/><path d="M-8.3,9.1 Q0,11.1 8.3,9.1" stroke-width="1.1" fill="none"/><path d="M-8.3,12.4 Q0,14.4 8.3,12.4" stroke-width="1.1" fill="none"/></g>
<g transform="translate(706.95,567.64) rotate(-17.6)" stroke="#000" fill="#fff"><path d="M-14.5,2 Q-14.5,0.2 -10.5,0 L10.5,0 Q14.5,0.2 14.5,2 L14.5,15.9 Q0,19.3 -14.5,15.9 Z" stroke-width="1.6"/><path d="M-14,1.6 Q0,5.6 14,1.6" stroke-width="1.1" fill="none"/><line x1="0" y1="3.6" x2="0" y2="17.7" stroke-width="1.5"/></g>
<g transform="translate(682,415.5) rotate(0)">
<clipPath id="bs3"><rect x="-8.8" y="0" width="17.6" height="171"/></clipPath>
<rect x="-8.8" y="0" width="17.6" height="171" fill="#fff"/>
<g clip-path="url(#bs3)" stroke="#000" stroke-width="1.6" fill="none">
<line x1="-8.8" y1="-44.5" x2="3.25" y2="-34.5"/>
<line x1="0.5" y1="-37.43" x2="8.8" y2="-44.81"/>
<line x1="-8.8" y1="-36.05" x2="-3.5" y2="-40.73"/>
<line x1="-8.8" y1="-37.6" x2="3.25" y2="-27.6"/>
<line x1="0.5" y1="-30.53" x2="8.8" y2="-37.91"/>
<line x1="-8.8" y1="-29.15" x2="-3.5" y2="-33.83"/>
<line x1="-8.8" y1="-30.7" x2="3.25" y2="-20.7"/>
<line x1="0.5" y1="-23.63" x2="8.8" y2="-31.01"/>
<line x1="-8.8" y1="-22.25" x2="-3.5" y2="-26.93"/>
<line x1="-8.8" y1="-23.8" x2="3.25" y2="-13.8"/>
<line x1="0.5" y1="-16.73" x2="8.8" y2="-24.11"/>
<line x1="-8.8" y1="-15.35" x2="-3.5" y2="-20.03"/>
<line x1="-8.8" y1="-16.9" x2="3.25" y2="-6.9"/>
<line x1="0.5" y1="-9.83" x2="8.8" y2="-17.21"/>
<line x1="-8.8" y1="-8.45" x2="-3.5" y2="-13.13"/>
<line x1="-8.8" y1="-10" x2="3.25" y2="0"/>
<line x1="0.5" y1="-2.93" x2="8.8" y2="-10.31"/>
<line x1="-8.8" y1="-1.55" x2="-3.5" y2="-6.23"/>
<line x1="-8.8" y1="-3.1" x2="3.25" y2="6.9"/>
<line x1="0.5" y1="3.97" x2="8.8" y2="-3.41"/>
<line x1="-8.8" y1="5.35" x2="-3.5" y2="0.67"/>
<line x1="-8.8" y1="3.8" x2="3.25" y2="13.8"/>
<line x1="0.5" y1="10.87" x2="8.8" y2="3.49"/>
<line x1="-8.8" y1="12.25" x2="-3.5" y2="7.57"/>
<line x1="-8.8" y1="10.7" x2="3.25" y2="20.7"/>
<line x1="0.5" y1="17.77" x2="8.8" y2="10.39"/>
<line x1="-8.8" y1="19.15" x2="-3.5" y2="14.47"/>
<line x1="-8.8" y1="17.6" x2="3.25" y2="27.6"/>
<line x1="0.5" y1="24.67" x2="8.8" y2="17.29"/>
<line x1="-8.8" y1="26.05" x2="-3.5" y2="21.37"/>
<line x1="-8.8" y1="24.5" x2="3.25" y2="34.5"/>
<line x1="0.5" y1="31.57" x2="8.8" y2="24.19"/>
<line x1="-8.8" y1="32.95" x2="-3.5" y2="28.27"/>
<line x1="-8.8" y1="31.4" x2="3.25" y2="41.4"/>
<line x1="0.5" y1="38.47" x2="8.8" y2="31.09"/>
<line x1="-8.8" y1="39.85" x2="-3.5" y2="35.17"/>
<line x1="-8.8" y1="38.3" x2="3.25" y2="48.3"/>
<line x1="0.5" y1="45.37" x2="8.8" y2="37.99"/>
<line x1="-8.8" y1="46.75" x2="-3.5" y2="42.07"/>
<line x1="-8.8" y1="45.2" x2="3.25" y2="55.2"/>
<line x1="0.5" y1="52.27" x2="8.8" y2="44.89"/>
<line x1="-8.8" y1="53.65" x2="-3.5" y2="48.97"/>
<line x1="-8.8" y1="52.1" x2="3.25" y2="62.1"/>
<line x1="0.5" y1="59.17" x2="8.8" y2="51.79"/>
<line x1="-8.8" y1="60.55" x2="-3.5" y2="55.87"/>
<line x1="-8.8" y1="59" x2="3.25" y2="69"/>
<line x1="0.5" y1="66.07" x2="8.8" y2="58.69"/>
<line x1="-8.8" y1="67.45" x2="-3.5" y2="62.77"/>
<line x1="-8.8" y1="65.9" x2="3.25" y2="75.9"/>
<line x1="0.5" y1="72.97" x2="8.8" y2="65.59"/>
<line x1="-8.8" y1="74.35" x2="-3.5" y2="69.67"/>
<line x1="-8.8" y1="72.8" x2="3.25" y2="82.8"/>
<line x1="0.5" y1="79.87" x2="8.8" y2="72.49"/>
<line x1="-8.8" y1="81.25" x2="-3.5" y2="76.57"/>
<line x1="-8.8" y1="79.7" x2="3.25" y2="89.7"/>
<line x1="0.5" y1="86.77" x2="8.8" y2="79.39"/>
<line x1="-8.8" y1="88.15" x2="-3.5" y2="83.47"/>
<line x1="-8.8" y1="86.6" x2="3.25" y2="96.6"/>
<line x1="0.5" y1="93.67" x2="8.8" y2="86.29"/>
<line x1="-8.8" y1="95.05" x2="-3.5" y2="90.37"/>
<line x1="-8.8" y1="93.5" x2="3.25" y2="103.5"/>
<line x1="0.5" y1="100.57" x2="8.8" y2="93.19"/>
<line x1="-8.8" y1="101.95" x2="-3.5" y2="97.27"/>
<line x1="-8.8" y1="100.4" x2="3.25" y2="110.4"/>
<line x1="0.5" y1="107.47" x2="8.8" y2="100.09"/>
<line x1="-8.8" y1="108.85" x2="-3.5" y2="104.17"/>
<line x1="-8.8" y1="107.3" x2="3.25" y2="117.3"/>
<line x1="0.5" y1="114.37" x2="8.8" y2="106.99"/>
<line x1="-8.8" y1="115.75" x2="-3.5" y2="111.07"/>
<line x1="-8.8" y1="114.2" x2="3.25" y2="124.2"/>
<line x1="0.5" y1="121.27" x2="8.8" y2="113.89"/>
<line x1="-8.8" y1="122.65" x2="-3.5" y2="117.97"/>
<line x1="-8.8" y1="121.1" x2="3.25" y2="131.1"/>
<line x1="0.5" y1="128.17" x2="8.8" y2="120.79"/>
<line x1="-8.8" y1="129.55" x2="-3.5" y2="124.87"/>
<line x1="-8.8" y1="128" x2="3.25" y2="138"/>
<line x1="0.5" y1="135.07" x2="8.8" y2="127.69"/>
<line x1="-8.8" y1="136.45" x2="-3.5" y2="131.77"/>
<line x1="-8.8" y1="134.9" x2="3.25" y2="144.9"/>
<line x1="0.5" y1="141.97" x2="8.8" y2="134.59"/>
<line x1="-8.8" y1="143.35" x2="-3.5" y2="138.67"/>
<line x1="-8.8" y1="141.8" x2="3.25" y2="151.8"/>
<line x1="0.5" y1="148.87" x2="8.8" y2="141.49"/>
<line x1="-8.8" y1="150.25" x2="-3.5" y2="145.57"/>
<line x1="-8.8" y1="148.7" x2="3.25" y2="158.7"/>
<line x1="0.5" y1="155.77" x2="8.8" y2="148.39"/>
<line x1="-8.8" y1="157.15" x2="-3.5" y2="152.47"/>
<line x1="-8.8" y1="155.6" x2="3.25" y2="165.6"/>
<line x1="0.5" y1="162.67" x2="8.8" y2="155.29"/>
<line x1="-8.8" y1="164.05" x2="-3.5" y2="159.37"/>
<line x1="-8.8" y1="162.5" x2="3.25" y2="172.5"/>
<line x1="0.5" y1="169.57" x2="8.8" y2="162.19"/>
<line x1="-8.8" y1="170.95" x2="-3.5" y2="166.27"/>
<line x1="-8.8" y1="169.4" x2="3.25" y2="179.4"/>
<line x1="0.5" y1="176.47" x2="8.8" y2="169.09"/>
<line x1="-8.8" y1="177.85" x2="-3.5" y2="173.17"/>
<line x1="-8.8" y1="176.3" x2="3.25" y2="186.3"/>
<line x1="0.5" y1="183.37" x2="8.8" y2="175.99"/>
<line x1="-8.8" y1="184.75" x2="-3.5" y2="180.07"/>
<line x1="-8.8" y1="183.2" x2="3.25" y2="193.2"/>
<line x1="0.5" y1="190.27" x2="8.8" y2="182.89"/>
<line x1="-8.8" y1="191.65" x2="-3.5" y2="186.97"/>
<line x1="-8.8" y1="190.1" x2="3.25" y2="200.1"/>
<line x1="0.5" y1="197.17" x2="8.8" y2="189.79"/>
<line x1="-8.8" y1="198.55" x2="-3.5" y2="193.87"/>
<line x1="-8.8" y1="197" x2="3.25" y2="207"/>
<line x1="0.5" y1="204.07" x2="8.8" y2="196.69"/>
<line x1="-8.8" y1="205.45" x2="-3.5" y2="200.77"/>
<line x1="-8.8" y1="203.9" x2="3.25" y2="213.9"/>
<line x1="0.5" y1="210.97" x2="8.8" y2="203.59"/>
<line x1="-8.8" y1="212.35" x2="-3.5" y2="207.67"/>
</g>
<line x1="-8.8" y1="0" x2="-8.8" y2="171" stroke="#000" stroke-width="1.6"/>
<line x1="8.8" y1="0" x2="8.8" y2="171" stroke="#000" stroke-width="1.2"/>
</g>
<path d="M671,409.5 Q677,406.5 683,409 Q689,411.5 695,408.5 L695,415.5 Q689,418.5 683,416 Q677,413.5 671,416.5 Z" stroke="none" stroke-width="0" fill="#fff" />
<path d="M673.2,409.3 Q677,406.9 682,409 Q687,411.2 690.8,409.6" stroke="#000" stroke-width="1.1" fill="none" />
<path d="M673.2,416.3 Q677,413.9 682,416 Q687,418.2 690.8,416.6" stroke="#000" stroke-width="1.1" fill="none" />
<rect x="645.3" y="396.3" width="20.7" height="24.3" stroke="#000" stroke-width="1.3" fill="#fff"/>
<line x1="652" y1="396.3" x2="652" y2="420.6" stroke="#000" stroke-width="1.0" />
<line x1="663" y1="396.3" x2="663" y2="420.6" stroke="#000" stroke-width="1.0" />
<path d="M648.9,420.6 L648.9,434.5 Q649,437 652,437 L660,437 Q662.8,437 662.8,434.5 L662.8,420.6" stroke="#000" stroke-width="1.2" fill="none" />
<g transform="translate(682,586.5) rotate(0)" stroke="#000" fill="#fff"><rect x="-8.3" y="0" width="16.6" height="16.6" stroke-width="1.2"/><path d="M-8.3,2.5 Q0,4.5 8.3,2.5" stroke-width="1.1" fill="none"/><path d="M-8.3,5.8 Q0,7.8 8.3,5.8" stroke-width="1.1" fill="none"/><path d="M-8.3,9.1 Q0,11.1 8.3,9.1" stroke-width="1.1" fill="none"/><path d="M-8.3,12.4 Q0,14.4 8.3,12.4" stroke-width="1.1" fill="none"/></g>
<g transform="translate(682.2,603.1) rotate(0)" stroke="#000" fill="#fff"><path d="M-14.75,2 Q-14.75,0.2 -10.75,0 L10.75,0 Q14.75,0.2 14.75,2 L14.75,16.9 Q0,20.3 -14.75,16.9 Z" stroke-width="1.6"/><path d="M-14.25,1.6 Q0,5.6 14.25,1.6" stroke-width="1.1" fill="none"/><line x1="0" y1="3.6" x2="0" y2="18.7" stroke-width="1.5"/></g>
<line x1="281.9" y1="681.8" x2="281.9" y2="757.5" stroke="#000" stroke-width="1.0" />
<line x1="396.4" y1="681.8" x2="396.4" y2="725" stroke="#000" stroke-width="1.0" />
<line x1="281.9" y1="687.6" x2="396.4" y2="687.6" stroke="#000" stroke-width="1.0" />
<path d="M282.3,687.6 L292.3,685.85 L292.3,689.35 Z" fill="#000"/>
<path d="M396,687.6 L386,689.35 L386,685.85 Z" fill="#000"/>
<text transform="translate(339.35,679.05) scale(0.7696211964513573,1)" x="0" y="6.29" font-family="Liberation Sans" font-size="17.48261638744356" letter-spacing="1.3" text-anchor="middle" fill="#000" stroke="#000" stroke-width="0.3">64.5</text>
<line x1="291.9" y1="707.3" x2="469.5" y2="707.3" stroke="#000" stroke-width="1.0" />
<line x1="376.7" y1="988.5" x2="469.5" y2="988.5" stroke="#000" stroke-width="1.0" />
<line x1="463.4" y1="707.3" x2="463.4" y2="988.5" stroke="#000" stroke-width="1.0" />
<path d="M463.4,707.7 L465.15,717.7 L461.65,717.7 Z" fill="#000"/>
<path d="M463.4,988.1 L461.65,978.1 L465.15,978.1 Z" fill="#000"/>
<text transform="translate(455.75,847.85) rotate(-90) scale(0.7704473013334213,1)" x="0" y="6.1" font-family="Liberation Sans" font-size="16.943278517932065" letter-spacing="1.3" text-anchor="middle" fill="#000" stroke="#000" stroke-width="0.3">150</text>
<path d="M291.9,707.3 L389.5,723.6 Q396.9,726 396.9,733.5 L390.8,773.8" stroke="#000" stroke-width="1.9" fill="none" />
<path d="M291.9,707.3 Q289.8,707.6 289.5,709.5 L281.4,757.8 L327.7,766.8" stroke="#000" stroke-width="1.9" fill="none" />
<line x1="293.2" y1="708.8" x2="283.3" y2="757.6" stroke="#000" stroke-width="1.1" />
<line x1="316.4" y1="711.8" x2="307.8" y2="763.2" stroke="#000" stroke-width="2.0" />
<line x1="320.8" y1="712.4" x2="312.5" y2="764" stroke="#000" stroke-width="2.0" />
<line x1="390.6" y1="723.9" x2="383.6" y2="773.8" stroke="#000" stroke-width="1.0" />
<path d="M327.7,766.8 L329.5,769.4 L347,757.5 Q354,752.5 361,757.5 Q366,762 372,767.5 L380.8,775.8 Q385.5,776.8 390.8,773.8" stroke="#000" stroke-width="1.9" fill="none" />
<path d="M331.5,767.6 L347.5,759.6 Q354,755.6 360,759.6 Q366,764.5 380.2,773.4" stroke="#000" stroke-width="0.9" fill="none" />
<line x1="380.2" y1="775.3" x2="383.4" y2="773.6" stroke="#000" stroke-width="0.9" />
<path d="M329.5,769.4 L329.5,797.5" stroke="#000" stroke-width="1.9" fill="none" />
<path d="M382,775.3 L382.9,880 Q384.8,915 382.3,969.3" stroke="#000" stroke-width="1.9" fill="none" />
<path d="M329,843 L328.6,880 Q327.6,915 328.6,969.3" stroke="#000" stroke-width="1.9" fill="none" />
<path d="M328.6,966.5 Q328.8,969.3 331.5,969.3 L379.5,969.3 Q382.3,969.3 382.3,966.5" stroke="#000" stroke-width="1.6" fill="none" />
<path d="M329.5,797.5 L331.2,799.2 L359,810 Q369,815 367,822 Q365,828 358.5,830.5 L331,842.2 Q325,844.5 322.8,840.5 Q321.6,836.5 326,832 Q330,828.5 336,825.5 L355,814.5" stroke="#000" stroke-width="1.9" fill="none" />
<path d="M332.5,802.6 L357.5,812.5 Q362,814.5 363.5,818.5" stroke="#000" stroke-width="0.9" fill="none" />
<path d="M336,826.2 L355,814.5 Q360.5,812 362,816.5 Q363,821.5 357.5,825.5 Q350,828.5 340,828" stroke="#000" stroke-width="1.2" fill="none" />
<path d="M326.5,837.5 Q331.5,831.5 340,828 M330,840.8 L358.5,830.5" stroke="#000" stroke-width="0.8" fill="none" />
<path d="M333,803 Q326.5,815 330,827.5" stroke="#000" stroke-width="1.0" fill="none" />
<path d="M327.5,838 L358,827.2 M328.5,839.7 L358.5,828.8" stroke="#222" stroke-width="0.8" fill="none" />
<rect x="335.6" y="971.2" width="41.1" height="2.4" stroke="#000" stroke-width="1.0" fill="#fff"/>
<path d="M335.6,973.6 L376.7,973.6 L376.7,988.5 L335.6,988.5 Z" stroke="#000" stroke-width="1" fill="#111" />
<line x1="336.2" y1="988.5" x2="336.2" y2="1018.3" stroke="#000" stroke-width="1.0" />
<line x1="375.5" y1="988.5" x2="375.5" y2="1018.3" stroke="#000" stroke-width="1.0" />
<line x1="336.2" y1="1013" x2="375.5" y2="1013" stroke="#000" stroke-width="1.0" />
<path d="M336.6,1013 L346.6,1011.25 L346.6,1014.75 Z" fill="#000"/>
<path d="M375.1,1013 L365.1,1014.75 L365.1,1011.25 Z" fill="#000"/>
<text transform="translate(357.5,1001.25) scale(0.8756688745041488,1)" x="0" y="5.96" font-family="Liberation Sans" font-size="16.5484767114591" letter-spacing="1.3" text-anchor="middle" fill="#000" stroke="#000" stroke-width="0.3">G1/2</text>
<line x1="561.3" y1="682" x2="561.3" y2="815" stroke="#000" stroke-width="1.0" />
<line x1="623.3" y1="682" x2="623.3" y2="815" stroke="#000" stroke-width="1.0" />
<line x1="561.3" y1="688" x2="623.3" y2="688" stroke="#000" stroke-width="1.0" />
<path d="M561.7,688 L571.7,686.25 L571.7,689.75 Z" fill="#000"/>
<path d="M622.9,688 L612.9,689.75 L612.9,686.25 Z" fill="#000"/>
<text transform="translate(592.4,679.75) scale(0.7898227631174574,1)" x="0" y="6.21" font-family="Liberation Sans" font-size="17.255358838899113" letter-spacing="1.3" text-anchor="middle" fill="#000" stroke="#000" stroke-width="0.3">33.5</text>
<ellipse cx="592.3" cy="732" rx="26.4" ry="25.3" fill="none" stroke="#000" stroke-width="2.2"/>
<ellipse cx="592.3" cy="732.3" rx="24.8" ry="23.8" fill="none" stroke="#000" stroke-width="0.9"/>
<path d="M566,740 A26.3,21.3 0 0 0 618.6,740" stroke="#000" stroke-width="1.3" fill="none" />
<path d="M566,745 A26.3,16.5 0 0 0 618.6,745" stroke="#000" stroke-width="2.4" fill="none" />
<path d="M566,748.5 A26.3,17.5 0 0 0 618.6,748.5" stroke="#000" stroke-width="1.0" fill="none" />
<path d="M566.3,752 A26,18.7 0 0 0 618.3,752" stroke="#000" stroke-width="1.6" fill="none" />
<circle cx="592.3" cy="732.7" r="16.6" fill="#777" stroke="#000" stroke-width="3.2"/>
<circle cx="592.3" cy="732.7" r="13.2" fill="none" stroke="#fff" stroke-width="0.9" stroke-dasharray="1.1 0.9"/>
<circle cx="592.3" cy="732.7" r="10.4" fill="none" stroke="#fff" stroke-width="0.9" stroke-dasharray="1.1 0.9"/>
<circle cx="592.3" cy="732.7" r="7.6" fill="none" stroke="#fff" stroke-width="0.9" stroke-dasharray="1.1 0.9"/>
<circle cx="592.3" cy="732.7" r="4.8" fill="none" stroke="#fff" stroke-width="0.9" stroke-dasharray="1.1 0.9"/>
<circle cx="592.3" cy="732.7" r="2.2" fill="none" stroke="#fff" stroke-width="0.9" stroke-dasharray="1.1 0.9"/>
<circle cx="592.3" cy="732.7" r="0.9" fill="#fff"/>
<line x1="566.2" y1="752" x2="567.6" y2="812" stroke="#000" stroke-width="1.9" />
<line x1="618.3" y1="752" x2="617.4" y2="812" stroke="#000" stroke-width="1.9" />
<path d="M567.5,808.5 Q568.5,797.5 592.5,797.5 Q616.5,797.5 617.8,808.5" stroke="#000" stroke-width="1.7" fill="none" />
<path d="M569,812 Q570,801 592.5,801 Q615,801 616.2,812" stroke="#000" stroke-width="1.7" fill="none" />
<path d="M560.9,814.4 L570.5,814.4 M614.5,814.4 L623.4,814.4" stroke="#000" stroke-width="2.0" fill="none" />
<path d="M560.9,814 L560.9,826 C561,836 572,843.3 585,843.3 L600,843.3 C613,843.3 623.4,836 623.4,826 L623.4,814" stroke="#000" stroke-width="2.5" fill="none" />
<path d="M563.6,816 L563.6,826 C564,834.3 574,840.4 585,840.4 L600,840.4 C611,840.4 620.7,834.3 620.7,826 L620.7,816" stroke="#000" stroke-width="0.9" fill="none" />
<path d="M570,814 C570,806.5 580,804.7 592.5,804.7 C605,804.7 615,806.5 615,814 C615,822 604,831.3 592.5,831.3 C581,831.3 570,822 570,814 Z" stroke="#000" stroke-width="2.0" fill="#fff" />
<path d="M566.8,842 L565,925 L565.6,969.4 L618.8,969.4 L619.4,925 L618,842" stroke="#000" stroke-width="1.9" fill="none" />
<line x1="565.6" y1="969.4" x2="618.8" y2="969.4" stroke="#000" stroke-width="1.8" />
<rect x="573.8" y="970.6" width="37" height="2.6" stroke="#000" stroke-width="1.0" fill="#fff"/>
<path d="M572,973.2 L612.5,973.2 L612.5,988.8 L572,988.8 Z" stroke="#000" stroke-width="1" fill="#111" />
<line x1="575" y1="986.3" x2="608" y2="986.3" stroke="#ddd" stroke-width="0.8" />
<line x1="577.2" y1="1017.7" x2="577.2" y2="1055.5" stroke="#000" stroke-width="1.0" />
<line x1="605.6" y1="1017.7" x2="605.6" y2="1055.5" stroke="#000" stroke-width="1.0" />
<line x1="577.2" y1="1023.3" x2="649.5" y2="1023.3" stroke="#000" stroke-width="1.0" />
<path d="M577.6,1023.3 L587.6,1021.55 L587.6,1025.05 Z" fill="#000"/>
<path d="M605.2,1023.3 L595.2,1025.05 L595.2,1021.55 Z" fill="#000"/>
<text transform="translate(634.25,1015.35) scale(0.8532676831927777,1)" x="0" y="5.49" font-family="Liberation Sans" font-size="15.245747796824324" letter-spacing="1.3" text-anchor="middle" fill="#000" stroke="#000" stroke-width="0.3">15.9</text>
<path d="M561.5,1047.3 L577.3,1047.3 M606,1047.3 L622.5,1047.3" stroke="#000" stroke-width="2.5" fill="none" />
<path d="M561,1047.3 L558.3,1124.3 L624.3,1124.3 L622.5,1047.3" stroke="#000" stroke-width="1.7" fill="none" />
<line x1="558.3" y1="1124.3" x2="624.3" y2="1124.3" stroke="#000" stroke-width="1.5" />
<path d="M571.25,1051.5 A24.3,24.3 0 1 0 612.05,1051.5" stroke="#000" stroke-width="2.0" fill="none" />
<path d="M574.68,1052.5 A20.9,20.9 0 1 0 608.62,1052.5" stroke="#000" stroke-width="1.0" fill="none" />
<path d="M576.07,1054 A18.9,18.9 0 1 0 607.23,1054" stroke="#000" stroke-width="1.0" fill="none" />
<path d="M577.28,1056 A16.8,16.8 0 1 0 606.02,1056" stroke="#000" stroke-width="1.7" fill="none" />
<path d="M601.89,1079.32 A17.85,17.85 0 0 1 581.41,1079.32" stroke="#000" stroke-width="2.2" fill="none" />
<rect x="573.6" y="1048.9" width="2.8" height="2.8" stroke="#000" stroke-width="0.9" fill="none"/>
<rect x="606.9" y="1048.9" width="2.8" height="2.8" stroke="#000" stroke-width="0.9" fill="none"/>
<line x1="577.3" y1="1047.3" x2="577.3" y2="1056.5" stroke="#000" stroke-width="1.6" />
<line x1="606" y1="1047.3" x2="606" y2="1056.5" stroke="#000" stroke-width="1.6" />
<line x1="622.5" y1="1047.3" x2="658.5" y2="1047.3" stroke="#000" stroke-width="1.0" />
<line x1="627" y1="1124.3" x2="658.5" y2="1124.3" stroke="#000" stroke-width="1.0" />
<line x1="653.3" y1="1047.3" x2="653.3" y2="1124.3" stroke="#000" stroke-width="1.0" />
<path d="M653.3,1047.7 L655.05,1057.7 L651.55,1057.7 Z" fill="#000"/>
<path d="M653.3,1123.9 L651.55,1113.9 L655.05,1113.9 Z" fill="#000"/>
<text transform="translate(644.45,1085.85) rotate(-90) scale(0.8164615183827219,1)" x="0" y="5.91" font-family="Liberation Sans" font-size="16.421763212243402" letter-spacing="1.3" text-anchor="middle" fill="#000" stroke="#000" stroke-width="0.3">43.2</text>
<line x1="558.3" y1="1126.8" x2="558.3" y2="1158.3" stroke="#000" stroke-width="1.0" />
<line x1="624.3" y1="1126.8" x2="624.3" y2="1158.3" stroke="#000" stroke-width="1.0" />
<line x1="558.3" y1="1153" x2="624.3" y2="1153" stroke="#000" stroke-width="1.0" />
<path d="M558.7,1153 L568.7,1151.25 L568.7,1154.75 Z" fill="#000"/>
<path d="M623.9,1153 L613.9,1154.75 L613.9,1151.25 Z" fill="#000"/>
<text transform="translate(592.1,1144.95) scale(0.7587471121920347,1)" x="0" y="5.96" font-family="Liberation Sans" font-size="16.548476711456466" letter-spacing="1.3" text-anchor="middle" fill="#000" stroke="#000" stroke-width="0.3">ø37.1</text>
<circle cx="356.25" cy="1089.2" r="33.2" fill="none" stroke="#000" stroke-width="2.4"/>
<path d="M329.2,1074 A31,31 0 1 1 329.3,1104.5" stroke="#000" stroke-width="1.0" fill="none" />
<path d="M328.8,1073.3 L381,1071.8" stroke="#000" stroke-width="2.5" fill="none" />
<path d="M331,1075.4 L379,1074" stroke="#000" stroke-width="0.8" fill="none" />
<path d="M328.8,1104.3 L381,1105" stroke="#000" stroke-width="2.5" fill="none" />
<path d="M331,1102.2 L379,1102.8" stroke="#000" stroke-width="0.8" fill="none" />
<circle cx="341.9" cy="1089" r="9.2" fill="none" stroke="#000" stroke-width="2.4"/>
<circle cx="341.9" cy="1089" r="7.0" fill="none" stroke="#000" stroke-width="0.8"/>
<circle cx="341.9" cy="1089" r="4.4" fill="none" stroke="#000" stroke-width="2.2"/>
<circle cx="370" cy="1089" r="9.2" fill="none" stroke="#000" stroke-width="2.4"/>
<circle cx="370" cy="1089" r="7.0" fill="none" stroke="#000" stroke-width="0.8"/>
<circle cx="370" cy="1089" r="4.4" fill="none" stroke="#000" stroke-width="2.2"/>
<line x1="342" y1="1098.5" x2="342" y2="1152" stroke="#000" stroke-width="1.0" />
<line x1="370.2" y1="1098.5" x2="370.2" y2="1152" stroke="#000" stroke-width="1.0" />
<line x1="342" y1="1146.5" x2="414" y2="1146.5" stroke="#000" stroke-width="1.0" />
<path d="M342.4,1146.5 L352.4,1144.75 L352.4,1148.25 Z" fill="#000"/>
<path d="M369.8,1146.5 L359.8,1148.25 L359.8,1144.75 Z" fill="#000"/>
<text transform="translate(397.67,1138.45) scale(0.8206551924964182,1)" x="0" y="5.91" font-family="Liberation Sans" font-size="16.42176321224605" letter-spacing="1.3" text-anchor="middle" fill="#000" stroke="#000" stroke-width="0.3">15.8</text>
<line x1="788.4" y1="818" x2="788.4" y2="847.5" stroke="#000" stroke-width="1.0" />
<line x1="900.5" y1="818" x2="900.5" y2="842" stroke="#000" stroke-width="1.0" />
<line x1="788.4" y1="823.8" x2="900.5" y2="823.8" stroke="#000" stroke-width="1.0" />
<path d="M788.8,823.8 L798.8,822.05 L798.8,825.55 Z" fill="#000"/>
<path d="M900.1,823.8 L890.1,825.55 L890.1,822.05 Z" fill="#000"/>
<text transform="translate(845.2,815.52) scale(0.8010411736368515,1)" x="0" y="6.07" font-family="Liberation Sans" font-size="16.852222321113672" letter-spacing="1.3" text-anchor="middle" fill="#000" stroke="#000" stroke-width="0.3">ø63</text>
<path d="M788.3,850.4 Q816,840 844.2,840 Q872,840 901.2,850.4 L901.2,852.8 L788.3,852.8 Z" stroke="#000" stroke-width="1.2" fill="#fff" />
<line x1="788.6" y1="850.4" x2="900.9" y2="850.4" stroke="#000" stroke-width="0.9" />
<line x1="844.2" y1="840" x2="964.6" y2="840" stroke="#000" stroke-width="1.0" />
<rect x="813.2" y="852.8" width="62.5" height="20.4" stroke="#000" stroke-width="1.0" fill="none"/>
<rect x="800.4" y="862" width="87.7" height="2.3" stroke="#000" stroke-width="1.0" fill="#fff"/>
<path d="M788.4,873.4 L901,873.4 L901,876.3 Q896,878.5 882.5,880 L806.5,880 Q793,878.5 788.4,876.3 Z" stroke="#000" stroke-width="1.1" fill="#fff" />
<line x1="788.8" y1="876.3" x2="900.6" y2="876.3" stroke="#000" stroke-width="0.9" />
<line x1="900.4" y1="873.7" x2="934.2" y2="873.7" stroke="#000" stroke-width="1.0" />
<rect x="791.2" y="880.2" width="107.2" height="13" stroke="#000" stroke-width="1.2" fill="none"/>
<line x1="791.8" y1="890.1" x2="897.8" y2="890.1" stroke="#000" stroke-width="1.8" />
<rect x="788.3" y="893.6" width="112.9" height="9.9" stroke="#000" stroke-width="1.3" fill="none"/>
<path d="M800.4,903.5 L800.4,935.6 L889.1,935.6 L889.1,903.5" stroke="#000" stroke-width="1.2" fill="none" />
<path d="M807.4,935.6 L807.4,951 L810.5,955.3 L879.3,955.3 L881.5,951 L881.5,935.6" stroke="#000" stroke-width="1.2" fill="none" />
<line x1="809.3" y1="935.8" x2="809.3" y2="953.5" stroke="#000" stroke-width="0.8" />
<line x1="879.3" y1="935.8" x2="879.3" y2="953.5" stroke="#000" stroke-width="0.9" />
<line x1="881.4" y1="955.4" x2="964.6" y2="955.4" stroke="#000" stroke-width="1.0" />
<rect x="833.7" y="955" width="21.8" height="9.4" stroke="#000" stroke-width="1.0" fill="#fff"/>
<rect x="840.4" y="964.4" width="8.3" height="85.4" stroke="#000" stroke-width="1.1" fill="#fff"/>
<line x1="844.5" y1="966" x2="844.5" y2="1048" stroke="#777" stroke-width="0.5" />
<line x1="844.2" y1="834" x2="844.2" y2="965.5" stroke="#000" stroke-width="1.0" stroke-dasharray="30 5 6 5" stroke-dashoffset="1.2"/>
<line x1="807.1" y1="955.5" x2="807.1" y2="1002.6" stroke="#000" stroke-width="1.0" />
<line x1="881.8" y1="955.5" x2="881.8" y2="1002.6" stroke="#000" stroke-width="1.0" />
<line x1="807.1" y1="997" x2="938.7" y2="997" stroke="#000" stroke-width="1.0" />
<path d="M807.5,997 L817.5,995.25 L817.5,998.75 Z" fill="#000"/>
<path d="M881.4,997 L871.4,998.75 L871.4,995.25 Z" fill="#000"/>
<text transform="translate(921.6,989.5) scale(0.76,1)" x="0" y="6.26" font-family="Liberation Sans" font-size="17.4" letter-spacing="1.3" text-anchor="middle" fill="#000" stroke="#000" stroke-width="0.3">G1</text>
<text transform="translate(933.8,980.6) scale(0.8,1)" x="0" y="4.32" font-family="Liberation Sans" font-size="12" letter-spacing="0" text-anchor="middle" fill="#000" stroke="#000" stroke-width="0.3">1</text>
<line x1="931.3" y1="985.8" x2="936.3" y2="985.8" stroke="#000" stroke-width="1.0" />
<text transform="translate(934,991.8) scale(0.72,1)" x="0" y="3.96" font-family="Liberation Sans" font-size="11" letter-spacing="0" text-anchor="middle" fill="#000" stroke="#000" stroke-width="0.3">4</text>
<line x1="928.6" y1="873.7" x2="928.6" y2="955.4" stroke="#000" stroke-width="1.0" />
<path d="M928.6,874.1 L930.35,884.1 L926.85,884.1 Z" fill="#000"/>
<path d="M928.6,955 L926.85,945 L930.35,945 Z" fill="#000"/>
<text transform="translate(920.75,913.6) rotate(-90) scale(0.7446500953484714,1)" x="0" y="6.26" font-family="Liberation Sans" font-size="17.39130434782609" letter-spacing="1.3" text-anchor="middle" fill="#000" stroke="#000" stroke-width="0.3">45.9</text>
<line x1="959" y1="840" x2="959" y2="955.4" stroke="#000" stroke-width="1.0" />
<path d="M959,840.4 L960.75,850.4 L957.25,850.4 Z" fill="#000"/>
<path d="M959,955 L957.25,945 L960.75,945 Z" fill="#000"/>
<text transform="translate(950.18,897.1) rotate(-90) scale(0.8017045382878596,1)" x="0" y="6.13" font-family="Liberation Sans" font-size="17.029158207472367" letter-spacing="1.3" text-anchor="middle" fill="#000" stroke="#000" stroke-width="0.3">59−71</text>
</svg>
</body></html>
